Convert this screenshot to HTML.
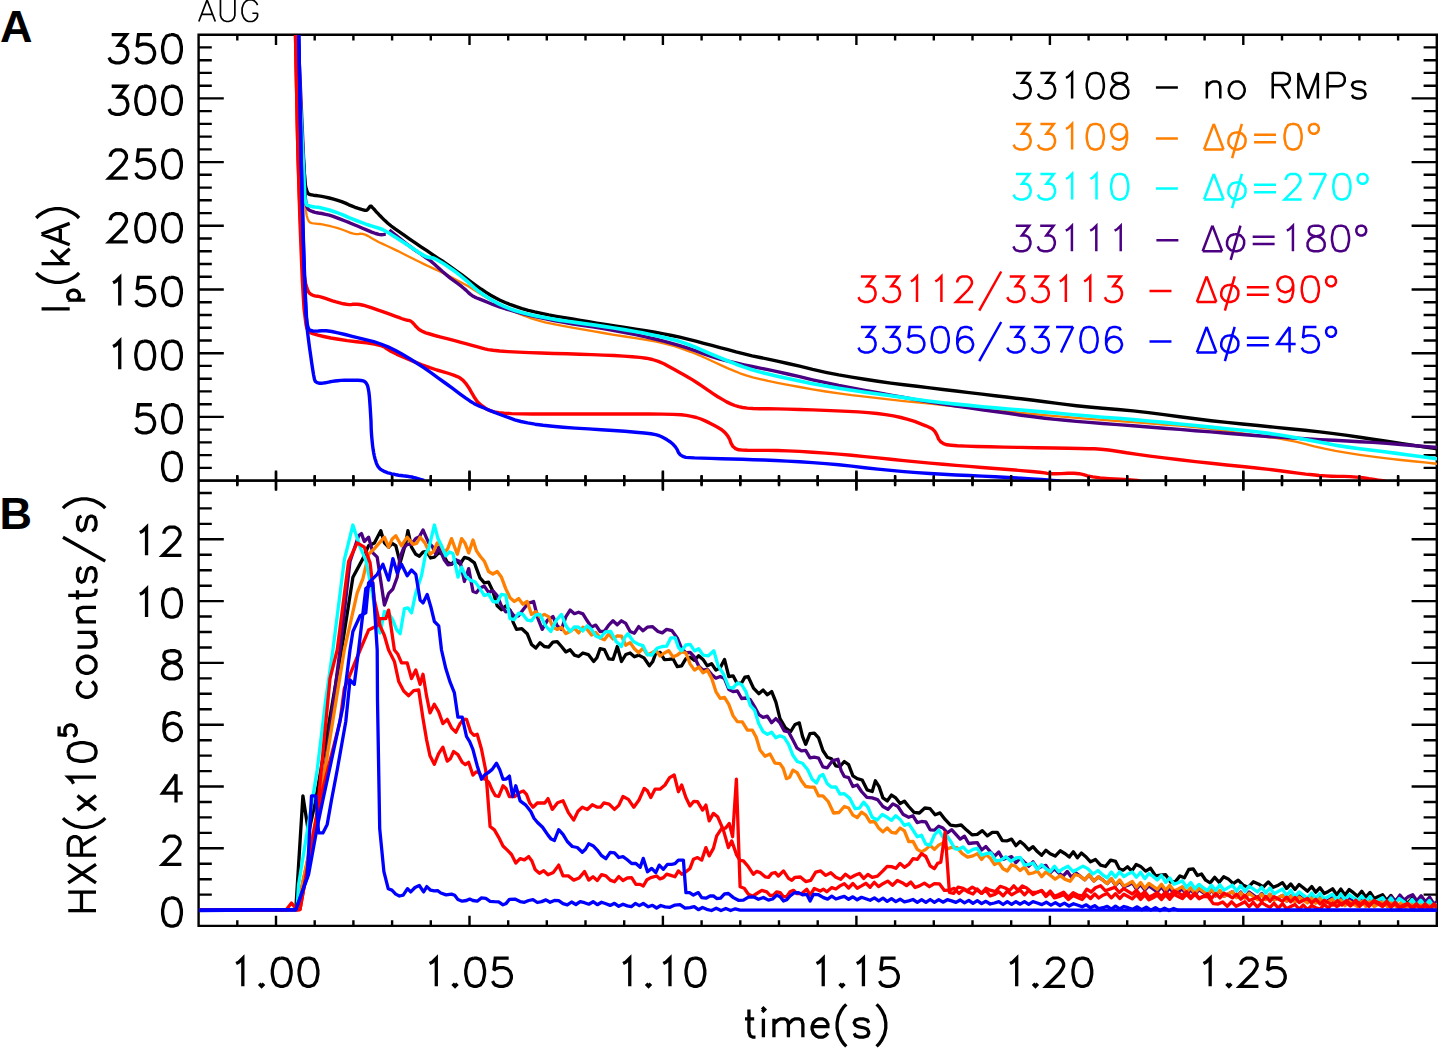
<!DOCTYPE html>
<html><head><meta charset="utf-8"><style>html,body{margin:0;padding:0;background:#fff;overflow:hidden}svg{display:block}</style></head><body>
<svg width="1438" height="1049" viewBox="0 0 1438 1049">
<rect width="1438" height="1049" fill="#fff"/>
<path d="M198.6 34.7 L1436.8 34.7 L1436.8 925.9 L198.6 925.9 Z M198.6 480.6 L1436.8 480.6 M198.6 467.9 h12 M1436.8 467.9 h-12 M198.6 455.1 h12 M1436.8 455.1 h-12 M198.6 442.4 h12 M1436.8 442.4 h-12 M198.6 429.6 h12 M1436.8 429.6 h-12 M198.6 416.9 h24 M1436.8 416.9 h-24 M198.6 404.2 h12 M1436.8 404.2 h-12 M198.6 391.4 h12 M1436.8 391.4 h-12 M198.6 378.7 h12 M1436.8 378.7 h-12 M198.6 365.9 h12 M1436.8 365.9 h-12 M198.6 353.2 h24 M1436.8 353.2 h-24 M198.6 340.5 h12 M1436.8 340.5 h-12 M198.6 327.7 h12 M1436.8 327.7 h-12 M198.6 315.0 h12 M1436.8 315.0 h-12 M198.6 302.2 h12 M1436.8 302.2 h-12 M198.6 289.5 h24 M1436.8 289.5 h-24 M198.6 276.8 h12 M1436.8 276.8 h-12 M198.6 264.0 h12 M1436.8 264.0 h-12 M198.6 251.3 h12 M1436.8 251.3 h-12 M198.6 238.5 h12 M1436.8 238.5 h-12 M198.6 225.8 h24 M1436.8 225.8 h-24 M198.6 213.1 h12 M1436.8 213.1 h-12 M198.6 200.3 h12 M1436.8 200.3 h-12 M198.6 187.6 h12 M1436.8 187.6 h-12 M198.6 174.8 h12 M1436.8 174.8 h-12 M198.6 162.1 h24 M1436.8 162.1 h-24 M198.6 149.4 h12 M1436.8 149.4 h-12 M198.6 136.6 h12 M1436.8 136.6 h-12 M198.6 123.9 h12 M1436.8 123.9 h-12 M198.6 111.1 h12 M1436.8 111.1 h-12 M198.6 98.4 h24 M1436.8 98.4 h-24 M198.6 85.7 h12 M1436.8 85.7 h-12 M198.6 72.9 h12 M1436.8 72.9 h-12 M198.6 60.2 h12 M1436.8 60.2 h-12 M198.6 47.4 h12 M1436.8 47.4 h-12 M198.6 910.1 h24 M1436.8 910.1 h-24 M198.6 894.6 h12 M1436.8 894.6 h-12 M198.6 879.2 h12 M1436.8 879.2 h-12 M198.6 863.8 h12 M1436.8 863.8 h-12 M198.6 848.3 h24 M1436.8 848.3 h-24 M198.6 832.9 h12 M1436.8 832.9 h-12 M198.6 817.4 h12 M1436.8 817.4 h-12 M198.6 802.0 h12 M1436.8 802.0 h-12 M198.6 786.5 h24 M1436.8 786.5 h-24 M198.6 771.1 h12 M1436.8 771.1 h-12 M198.6 755.6 h12 M1436.8 755.6 h-12 M198.6 740.2 h12 M1436.8 740.2 h-12 M198.6 724.7 h24 M1436.8 724.7 h-24 M198.6 709.2 h12 M1436.8 709.2 h-12 M198.6 693.8 h12 M1436.8 693.8 h-12 M198.6 678.4 h12 M1436.8 678.4 h-12 M198.6 662.9 h24 M1436.8 662.9 h-24 M198.6 647.5 h12 M1436.8 647.5 h-12 M198.6 632.0 h12 M1436.8 632.0 h-12 M198.6 616.5 h12 M1436.8 616.5 h-12 M198.6 601.1 h24 M1436.8 601.1 h-24 M198.6 585.7 h12 M1436.8 585.7 h-12 M198.6 570.2 h12 M1436.8 570.2 h-12 M198.6 554.8 h12 M1436.8 554.8 h-12 M198.6 539.3 h24 M1436.8 539.3 h-24 M198.6 523.9 h12 M1436.8 523.9 h-12 M198.6 508.4 h12 M1436.8 508.4 h-12 M198.6 493.0 h12 M1436.8 493.0 h-12 M237.3 34.7 v4.5 M237.3 480.6 v-4.5 M237.3 480.6 v4.5 M237.3 925.9 v-4.5 M276.0 34.7 v9.0 M276.0 480.6 v-9.0 M276.0 480.6 v9.0 M276.0 925.9 v-9.0 M314.7 34.7 v4.5 M314.7 480.6 v-4.5 M314.7 480.6 v4.5 M314.7 925.9 v-4.5 M353.4 34.7 v4.5 M353.4 480.6 v-4.5 M353.4 480.6 v4.5 M353.4 925.9 v-4.5 M392.1 34.7 v4.5 M392.1 480.6 v-4.5 M392.1 480.6 v4.5 M392.1 925.9 v-4.5 M430.8 34.7 v4.5 M430.8 480.6 v-4.5 M430.8 480.6 v4.5 M430.8 925.9 v-4.5 M469.5 34.7 v9.0 M469.5 480.6 v-9.0 M469.5 480.6 v9.0 M469.5 925.9 v-9.0 M508.2 34.7 v4.5 M508.2 480.6 v-4.5 M508.2 480.6 v4.5 M508.2 925.9 v-4.5 M546.8 34.7 v4.5 M546.8 480.6 v-4.5 M546.8 480.6 v4.5 M546.8 925.9 v-4.5 M585.5 34.7 v4.5 M585.5 480.6 v-4.5 M585.5 480.6 v4.5 M585.5 925.9 v-4.5 M624.2 34.7 v4.5 M624.2 480.6 v-4.5 M624.2 480.6 v4.5 M624.2 925.9 v-4.5 M662.9 34.7 v9.0 M662.9 480.6 v-9.0 M662.9 480.6 v9.0 M662.9 925.9 v-9.0 M701.6 34.7 v4.5 M701.6 480.6 v-4.5 M701.6 480.6 v4.5 M701.6 925.9 v-4.5 M740.3 34.7 v4.5 M740.3 480.6 v-4.5 M740.3 480.6 v4.5 M740.3 925.9 v-4.5 M779.0 34.7 v4.5 M779.0 480.6 v-4.5 M779.0 480.6 v4.5 M779.0 925.9 v-4.5 M817.7 34.7 v4.5 M817.7 480.6 v-4.5 M817.7 480.6 v4.5 M817.7 925.9 v-4.5 M856.4 34.7 v9.0 M856.4 480.6 v-9.0 M856.4 480.6 v9.0 M856.4 925.9 v-9.0 M895.1 34.7 v4.5 M895.1 480.6 v-4.5 M895.1 480.6 v4.5 M895.1 925.9 v-4.5 M933.8 34.7 v4.5 M933.8 480.6 v-4.5 M933.8 480.6 v4.5 M933.8 925.9 v-4.5 M972.5 34.7 v4.5 M972.5 480.6 v-4.5 M972.5 480.6 v4.5 M972.5 925.9 v-4.5 M1011.2 34.7 v4.5 M1011.2 480.6 v-4.5 M1011.2 480.6 v4.5 M1011.2 925.9 v-4.5 M1049.9 34.7 v9.0 M1049.9 480.6 v-9.0 M1049.9 480.6 v9.0 M1049.9 925.9 v-9.0 M1088.6 34.7 v4.5 M1088.6 480.6 v-4.5 M1088.6 480.6 v4.5 M1088.6 925.9 v-4.5 M1127.2 34.7 v4.5 M1127.2 480.6 v-4.5 M1127.2 480.6 v4.5 M1127.2 925.9 v-4.5 M1165.9 34.7 v4.5 M1165.9 480.6 v-4.5 M1165.9 480.6 v4.5 M1165.9 925.9 v-4.5 M1204.6 34.7 v4.5 M1204.6 480.6 v-4.5 M1204.6 480.6 v4.5 M1204.6 925.9 v-4.5 M1243.3 34.7 v9.0 M1243.3 480.6 v-9.0 M1243.3 480.6 v9.0 M1243.3 925.9 v-9.0 M1282.0 34.7 v4.5 M1282.0 480.6 v-4.5 M1282.0 480.6 v4.5 M1282.0 925.9 v-4.5 M1320.7 34.7 v4.5 M1320.7 480.6 v-4.5 M1320.7 480.6 v4.5 M1320.7 925.9 v-4.5 M1359.4 34.7 v4.5 M1359.4 480.6 v-4.5 M1359.4 480.6 v4.5 M1359.4 925.9 v-4.5 M1398.1 34.7 v4.5 M1398.1 480.6 v-4.5 M1398.1 480.6 v4.5 M1398.1 925.9 v-4.5" stroke="#000" stroke-width="2.4" fill="none" stroke-linecap="square"/>
<path d="M170.66 452.46 L166.64 453.80 L163.96 457.82 L162.62 464.52 L162.62 468.54 L163.96 475.24 L166.64 479.26 L170.66 480.60 L173.34 480.60 L177.36 479.26 L180.04 475.24 L181.38 468.54 L181.38 464.52 L180.04 457.82 L177.36 453.80 L173.34 452.46 L170.66 452.46 M151.90 404.76 L138.50 404.76 L137.16 416.82 L138.50 415.48 L142.52 414.14 L146.54 414.14 L150.56 415.48 L153.24 418.16 L154.58 422.18 L154.58 424.86 L153.24 428.88 L150.56 431.56 L146.54 432.90 L142.52 432.90 L138.50 431.56 L137.16 430.22 L135.82 427.54 M170.66 404.76 L166.64 406.10 L163.96 410.12 L162.62 416.82 L162.62 420.84 L163.96 427.54 L166.64 431.56 L170.66 432.90 L173.34 432.90 L177.36 431.56 L180.04 427.54 L181.38 420.84 L181.38 416.82 L180.04 410.12 L177.36 406.10 L173.34 404.76 L170.66 404.76 M113.04 346.42 L115.72 345.08 L119.74 341.06 L119.74 369.20 M143.86 341.06 L139.84 342.40 L137.16 346.42 L135.82 353.12 L135.82 357.14 L137.16 363.84 L139.84 367.86 L143.86 369.20 L146.54 369.20 L150.56 367.86 L153.24 363.84 L154.58 357.14 L154.58 353.12 L153.24 346.42 L150.56 342.40 L146.54 341.06 L143.86 341.06 M170.66 341.06 L166.64 342.40 L163.96 346.42 L162.62 353.12 L162.62 357.14 L163.96 363.84 L166.64 367.86 L170.66 369.20 L173.34 369.20 L177.36 367.86 L180.04 363.84 L181.38 357.14 L181.38 353.12 L180.04 346.42 L177.36 342.40 L173.34 341.06 L170.66 341.06 M113.04 282.72 L115.72 281.38 L119.74 277.36 L119.74 305.50 M151.90 277.36 L138.50 277.36 L137.16 289.42 L138.50 288.08 L142.52 286.74 L146.54 286.74 L150.56 288.08 L153.24 290.76 L154.58 294.78 L154.58 297.46 L153.24 301.48 L150.56 304.16 L146.54 305.50 L142.52 305.50 L138.50 304.16 L137.16 302.82 L135.82 300.14 M170.66 277.36 L166.64 278.70 L163.96 282.72 L162.62 289.42 L162.62 293.44 L163.96 300.14 L166.64 304.16 L170.66 305.50 L173.34 305.50 L177.36 304.16 L180.04 300.14 L181.38 293.44 L181.38 289.42 L180.04 282.72 L177.36 278.70 L173.34 277.36 L170.66 277.36 M110.36 220.36 L110.36 219.02 L111.70 216.34 L113.04 215.00 L115.72 213.66 L121.08 213.66 L123.76 215.00 L125.10 216.34 L126.44 219.02 L126.44 221.70 L125.10 224.38 L122.42 228.40 L109.02 241.80 L127.78 241.80 M143.86 213.66 L139.84 215.00 L137.16 219.02 L135.82 225.72 L135.82 229.74 L137.16 236.44 L139.84 240.46 L143.86 241.80 L146.54 241.80 L150.56 240.46 L153.24 236.44 L154.58 229.74 L154.58 225.72 L153.24 219.02 L150.56 215.00 L146.54 213.66 L143.86 213.66 M170.66 213.66 L166.64 215.00 L163.96 219.02 L162.62 225.72 L162.62 229.74 L163.96 236.44 L166.64 240.46 L170.66 241.80 L173.34 241.80 L177.36 240.46 L180.04 236.44 L181.38 229.74 L181.38 225.72 L180.04 219.02 L177.36 215.00 L173.34 213.66 L170.66 213.66 M110.36 156.66 L110.36 155.32 L111.70 152.64 L113.04 151.30 L115.72 149.96 L121.08 149.96 L123.76 151.30 L125.10 152.64 L126.44 155.32 L126.44 158.00 L125.10 160.68 L122.42 164.70 L109.02 178.10 L127.78 178.10 M151.90 149.96 L138.50 149.96 L137.16 162.02 L138.50 160.68 L142.52 159.34 L146.54 159.34 L150.56 160.68 L153.24 163.36 L154.58 167.38 L154.58 170.06 L153.24 174.08 L150.56 176.76 L146.54 178.10 L142.52 178.10 L138.50 176.76 L137.16 175.42 L135.82 172.74 M170.66 149.96 L166.64 151.30 L163.96 155.32 L162.62 162.02 L162.62 166.04 L163.96 172.74 L166.64 176.76 L170.66 178.10 L173.34 178.10 L177.36 176.76 L180.04 172.74 L181.38 166.04 L181.38 162.02 L180.04 155.32 L177.36 151.30 L173.34 149.96 L170.66 149.96 M111.70 86.26 L126.44 86.26 L118.40 96.98 L122.42 96.98 L125.10 98.32 L126.44 99.66 L127.78 103.68 L127.78 106.36 L126.44 110.38 L123.76 113.06 L119.74 114.40 L115.72 114.40 L111.70 113.06 L110.36 111.72 L109.02 109.04 M143.86 86.26 L139.84 87.60 L137.16 91.62 L135.82 98.32 L135.82 102.34 L137.16 109.04 L139.84 113.06 L143.86 114.40 L146.54 114.40 L150.56 113.06 L153.24 109.04 L154.58 102.34 L154.58 98.32 L153.24 91.62 L150.56 87.60 L146.54 86.26 L143.86 86.26 M170.66 86.26 L166.64 87.60 L163.96 91.62 L162.62 98.32 L162.62 102.34 L163.96 109.04 L166.64 113.06 L170.66 114.40 L173.34 114.40 L177.36 113.06 L180.04 109.04 L181.38 102.34 L181.38 98.32 L180.04 91.62 L177.36 87.60 L173.34 86.26 L170.66 86.26 M111.70 34.70 L126.44 34.70 L118.40 45.42 L122.42 45.42 L125.10 46.76 L126.44 48.10 L127.78 52.12 L127.78 54.80 L126.44 58.82 L123.76 61.50 L119.74 62.84 L115.72 62.84 L111.70 61.50 L110.36 60.16 L109.02 57.48 M151.90 34.70 L138.50 34.70 L137.16 46.76 L138.50 45.42 L142.52 44.08 L146.54 44.08 L150.56 45.42 L153.24 48.10 L154.58 52.12 L154.58 54.80 L153.24 58.82 L150.56 61.50 L146.54 62.84 L142.52 62.84 L138.50 61.50 L137.16 60.16 L135.82 57.48 M170.66 34.70 L166.64 36.04 L163.96 40.06 L162.62 46.76 L162.62 50.78 L163.96 57.48 L166.64 61.50 L170.66 62.84 L173.34 62.84 L177.36 61.50 L180.04 57.48 L181.38 50.78 L181.38 46.76 L180.04 40.06 L177.36 36.04 L173.34 34.70 L170.66 34.70 M170.66 897.96 L166.64 899.30 L163.96 903.32 L162.62 910.02 L162.62 914.04 L163.96 920.74 L166.64 924.76 L170.66 926.10 L173.34 926.10 L177.36 924.76 L180.04 920.74 L181.38 914.04 L181.38 910.02 L180.04 903.32 L177.36 899.30 L173.34 897.96 L170.66 897.96 M163.96 842.86 L163.96 841.52 L165.30 838.84 L166.64 837.50 L169.32 836.16 L174.68 836.16 L177.36 837.50 L178.70 838.84 L180.04 841.52 L180.04 844.20 L178.70 846.88 L176.02 850.90 L162.62 864.30 L181.38 864.30 M176.02 774.36 L162.62 793.12 L182.72 793.12 M176.02 774.36 L176.02 802.50 M180.04 716.58 L178.70 713.90 L174.68 712.56 L172.00 712.56 L167.98 713.90 L165.30 717.92 L163.96 724.62 L163.96 731.32 L165.30 736.68 L167.98 739.36 L172.00 740.70 L173.34 740.70 L177.36 739.36 L180.04 736.68 L181.38 732.66 L181.38 731.32 L180.04 727.30 L177.36 724.62 L173.34 723.28 L172.00 723.28 L167.98 724.62 L165.30 727.30 L163.96 731.32 M169.32 650.76 L165.30 652.10 L163.96 654.78 L163.96 657.46 L165.30 660.14 L167.98 661.48 L173.34 662.82 L177.36 664.16 L180.04 666.84 L181.38 669.52 L181.38 673.54 L180.04 676.22 L178.70 677.56 L174.68 678.90 L169.32 678.90 L165.30 677.56 L163.96 676.22 L162.62 673.54 L162.62 669.52 L163.96 666.84 L166.64 664.16 L170.66 662.82 L176.02 661.48 L178.70 660.14 L180.04 657.46 L180.04 654.78 L178.70 652.10 L174.68 650.76 L169.32 650.76 M139.84 594.32 L142.52 592.98 L146.54 588.96 L146.54 617.10 M170.66 588.96 L166.64 590.30 L163.96 594.32 L162.62 601.02 L162.62 605.04 L163.96 611.74 L166.64 615.76 L170.66 617.10 L173.34 617.10 L177.36 615.76 L180.04 611.74 L181.38 605.04 L181.38 601.02 L180.04 594.32 L177.36 590.30 L173.34 588.96 L170.66 588.96 M139.84 532.52 L142.52 531.18 L146.54 527.16 L146.54 555.30 M163.96 533.86 L163.96 532.52 L165.30 529.84 L166.64 528.50 L169.32 527.16 L174.68 527.16 L177.36 528.50 L178.70 529.84 L180.04 532.52 L180.04 535.20 L178.70 537.88 L176.02 541.90 L162.62 555.30 L181.38 555.30 M236.13 963.52 L238.81 962.18 L242.83 958.16 L242.83 986.30 M261.59 983.62 L260.25 984.96 L261.59 986.30 L262.93 984.96 L261.59 983.62 M280.35 958.16 L276.33 959.50 L273.65 963.52 L272.31 970.22 L272.31 974.24 L273.65 980.94 L276.33 984.96 L280.35 986.30 L283.03 986.30 L287.05 984.96 L289.73 980.94 L291.07 974.24 L291.07 970.22 L289.73 963.52 L287.05 959.50 L283.03 958.16 L280.35 958.16 M307.15 958.16 L303.13 959.50 L300.45 963.52 L299.11 970.22 L299.11 974.24 L300.45 980.94 L303.13 984.96 L307.15 986.30 L309.83 986.30 L313.85 984.96 L316.53 980.94 L317.87 974.24 L317.87 970.22 L316.53 963.52 L313.85 959.50 L309.83 958.16 L307.15 958.16 M429.60 963.52 L432.28 962.18 L436.30 958.16 L436.30 986.30 M455.06 983.62 L453.72 984.96 L455.06 986.30 L456.40 984.96 L455.06 983.62 M473.82 958.16 L469.80 959.50 L467.12 963.52 L465.78 970.22 L465.78 974.24 L467.12 980.94 L469.80 984.96 L473.82 986.30 L476.50 986.30 L480.52 984.96 L483.20 980.94 L484.54 974.24 L484.54 970.22 L483.20 963.52 L480.52 959.50 L476.50 958.16 L473.82 958.16 M508.66 958.16 L495.26 958.16 L493.92 970.22 L495.26 968.88 L499.28 967.54 L503.30 967.54 L507.32 968.88 L510.00 971.56 L511.34 975.58 L511.34 978.26 L510.00 982.28 L507.32 984.96 L503.30 986.30 L499.28 986.30 L495.26 984.96 L493.92 983.62 L492.58 980.94 M623.07 963.52 L625.75 962.18 L629.77 958.16 L629.77 986.30 M648.53 983.62 L647.19 984.96 L648.53 986.30 L649.87 984.96 L648.53 983.62 M663.27 963.52 L665.95 962.18 L669.97 958.16 L669.97 986.30 M694.09 958.16 L690.07 959.50 L687.39 963.52 L686.05 970.22 L686.05 974.24 L687.39 980.94 L690.07 984.96 L694.09 986.30 L696.77 986.30 L700.79 984.96 L703.47 980.94 L704.81 974.24 L704.81 970.22 L703.47 963.52 L700.79 959.50 L696.77 958.16 L694.09 958.16 M816.53 963.52 L819.21 962.18 L823.23 958.16 L823.23 986.30 M841.99 983.62 L840.65 984.96 L841.99 986.30 L843.33 984.96 L841.99 983.62 M856.73 963.52 L859.41 962.18 L863.43 958.16 L863.43 986.30 M895.59 958.16 L882.19 958.16 L880.85 970.22 L882.19 968.88 L886.21 967.54 L890.23 967.54 L894.25 968.88 L896.93 971.56 L898.27 975.58 L898.27 978.26 L896.93 982.28 L894.25 984.96 L890.23 986.30 L886.21 986.30 L882.19 984.96 L880.85 983.62 L879.51 980.94 M1010.00 963.52 L1012.68 962.18 L1016.70 958.16 L1016.70 986.30 M1035.46 983.62 L1034.12 984.96 L1035.46 986.30 L1036.80 984.96 L1035.46 983.62 M1047.52 964.86 L1047.52 963.52 L1048.86 960.84 L1050.20 959.50 L1052.88 958.16 L1058.24 958.16 L1060.92 959.50 L1062.26 960.84 L1063.60 963.52 L1063.60 966.20 L1062.26 968.88 L1059.58 972.90 L1046.18 986.30 L1064.94 986.30 M1081.02 958.16 L1077.00 959.50 L1074.32 963.52 L1072.98 970.22 L1072.98 974.24 L1074.32 980.94 L1077.00 984.96 L1081.02 986.30 L1083.70 986.30 L1087.72 984.96 L1090.40 980.94 L1091.74 974.24 L1091.74 970.22 L1090.40 963.52 L1087.72 959.50 L1083.70 958.16 L1081.02 958.16 M1203.47 963.52 L1206.15 962.18 L1210.17 958.16 L1210.17 986.30 M1228.93 983.62 L1227.59 984.96 L1228.93 986.30 L1230.27 984.96 L1228.93 983.62 M1240.99 964.86 L1240.99 963.52 L1242.33 960.84 L1243.67 959.50 L1246.35 958.16 L1251.71 958.16 L1254.39 959.50 L1255.73 960.84 L1257.07 963.52 L1257.07 966.20 L1255.73 968.88 L1253.05 972.90 L1239.65 986.30 L1258.41 986.30 M1282.53 958.16 L1269.13 958.16 L1267.79 970.22 L1269.13 968.88 L1273.15 967.54 L1277.17 967.54 L1281.19 968.88 L1283.87 971.56 L1285.21 975.58 L1285.21 978.26 L1283.87 982.28 L1281.19 984.96 L1277.17 986.30 L1273.15 986.30 L1269.13 984.96 L1267.79 983.62 L1266.45 980.94 M748.93 1009.56 L748.93 1031.94 L750.24 1035.88 L752.87 1037.20 L755.51 1037.20 M744.98 1018.78 L754.19 1018.78 M762.09 1009.56 L763.40 1010.88 L764.72 1009.56 L763.40 1008.25 L762.09 1009.56 M763.40 1018.78 L763.40 1037.20 M773.93 1018.78 L773.93 1037.20 M773.93 1024.04 L777.88 1020.09 L780.51 1018.78 L784.46 1018.78 L787.09 1020.09 L788.41 1024.04 L788.41 1037.20 M788.41 1024.04 L792.35 1020.09 L794.99 1018.78 L798.93 1018.78 L801.57 1020.09 L802.88 1024.04 L802.88 1037.20 M812.09 1026.67 L827.89 1026.67 L827.89 1024.04 L826.57 1021.41 L825.25 1020.09 L822.62 1018.78 L818.67 1018.78 L816.04 1020.09 L813.41 1022.72 L812.09 1026.67 L812.09 1029.30 L813.41 1033.25 L816.04 1035.88 L818.67 1037.20 L822.62 1037.20 L825.25 1035.88 L827.89 1033.25 M846.31 1004.30 L843.68 1006.93 L841.05 1010.88 L838.41 1016.14 L837.10 1022.72 L837.10 1027.99 L838.41 1034.57 L841.05 1039.83 L843.68 1043.78 L846.31 1046.41 M868.68 1022.72 L867.37 1020.09 L863.42 1018.78 L859.47 1018.78 L855.52 1020.09 L854.21 1022.72 L855.52 1025.36 L858.15 1026.67 L864.73 1027.99 L867.37 1029.30 L868.68 1031.94 L868.68 1033.25 L867.37 1035.88 L863.42 1037.20 L859.47 1037.20 L855.52 1035.88 L854.21 1033.25 M876.58 1004.30 L879.21 1006.93 L881.84 1010.88 L884.47 1016.14 L885.79 1022.72 L885.79 1027.99 L884.47 1034.57 L881.84 1039.83 L879.21 1043.78 L876.58 1046.41" stroke="#000" stroke-width="3.3" fill="none" stroke-linecap="butt" stroke-linejoin="miter" stroke-miterlimit="3"/>
<path d="M207.07 -0.13 L198.83 21.50 M207.07 -0.13 L215.31 21.50 M201.92 14.29 L212.22 14.29 M220.46 -0.13 L220.46 15.32 L221.49 18.41 L223.55 20.47 L226.64 21.50 L228.70 21.50 L231.79 20.47 L233.85 18.41 L234.88 15.32 L234.88 -0.13 M257.54 5.02 L256.51 2.96 L254.45 0.90 L252.39 -0.13 L248.27 -0.13 L246.21 0.90 L244.15 2.96 L243.12 5.02 L242.09 8.11 L242.09 13.26 L243.12 16.35 L244.15 18.41 L246.21 20.47 L248.27 21.50 L252.39 21.50 L254.45 20.47 L256.51 18.41 L257.54 16.35 L257.54 13.26 M252.39 13.26 L257.54 13.26" stroke="#000" stroke-width="1.7" fill="none" stroke-linecap="butt" stroke-linejoin="miter" stroke-miterlimit="3"/>
<g transform="translate(69.7,314.2) rotate(-90)"><path d="M5.36 -28.14 L5.36 0.00 M14.04 -1.93 L14.04 15.52 M14.04 0.56 L15.70 -1.10 L17.37 -1.93 L19.86 -1.93 L21.52 -1.10 L23.18 0.56 L24.01 3.05 L24.01 4.72 L23.18 7.21 L21.52 8.87 L19.86 9.70 L17.37 9.70 L15.70 8.87 L14.04 7.21 M41.25 -33.50 L38.57 -30.82 L35.89 -26.80 L33.21 -21.44 L31.87 -14.74 L31.87 -9.38 L33.21 -2.68 L35.89 2.68 L38.57 6.70 L41.25 9.38 M50.63 -28.14 L50.63 0.00 M64.03 -18.76 L50.63 -5.36 M55.99 -10.72 L65.37 0.00 M80.11 -28.14 L69.39 0.00 M80.11 -28.14 L90.83 0.00 M73.41 -9.38 L86.81 -9.38 M96.19 -33.50 L98.87 -30.82 L101.55 -26.80 L104.23 -21.44 L105.57 -14.74 L105.57 -9.38 L104.23 -2.68 L101.55 2.68 L98.87 6.70 L96.19 9.38" stroke="#000" stroke-width="3.3" fill="none" stroke-linecap="butt" stroke-linejoin="miter" stroke-miterlimit="3"/></g>
<g transform="translate(96.0,915.9) rotate(-90)"><path d="M5.29 -27.76 L5.29 0.00 M23.80 -27.76 L23.80 0.00 M5.29 -14.54 L23.80 -14.54 M33.05 -27.76 L51.56 0.00 M51.56 -27.76 L33.05 0.00 M60.81 -27.76 L60.81 0.00 M60.81 -27.76 L72.71 -27.76 L76.68 -26.44 L78.00 -25.12 L79.32 -22.47 L79.32 -19.83 L78.00 -17.19 L76.68 -15.86 L72.71 -14.54 L60.81 -14.54 M70.07 -14.54 L79.32 0.00 M97.83 -33.05 L95.18 -30.41 L92.54 -26.44 L89.90 -21.15 L88.57 -14.54 L88.57 -9.25 L89.90 -2.64 L92.54 2.64 L95.18 6.61 L97.83 9.25 M105.76 -18.51 L120.30 0.00 M120.30 -18.51 L105.76 0.00 M132.20 -22.47 L134.84 -23.80 L138.81 -27.76 L138.81 0.00 M162.61 -27.76 L158.64 -26.44 L156.00 -22.47 L154.67 -15.86 L154.67 -11.90 L156.00 -5.29 L158.64 -1.32 L162.61 0.00 L165.25 0.00 L169.22 -1.32 L171.86 -5.29 L173.18 -11.90 L173.18 -15.86 L171.86 -22.47 L169.22 -26.44 L165.25 -27.76 L162.61 -27.76 M189.44 -36.91 L181.25 -36.91 L180.43 -29.54 L181.25 -30.36 L183.71 -31.17 L186.16 -31.17 L188.62 -30.36 L190.26 -28.72 L191.08 -26.26 L191.08 -24.62 L190.26 -22.16 L188.62 -20.52 L186.16 -19.70 L183.71 -19.70 L181.25 -20.52 L180.43 -21.34 L179.61 -22.98 M234.52 -14.54 L231.88 -17.19 L229.23 -18.51 L225.27 -18.51 L222.62 -17.19 L219.98 -14.54 L218.66 -10.58 L218.66 -7.93 L219.98 -3.97 L222.62 -1.32 L225.27 0.00 L229.23 0.00 L231.88 -1.32 L234.52 -3.97 M249.06 -18.51 L246.42 -17.19 L243.78 -14.54 L242.45 -10.58 L242.45 -7.93 L243.78 -3.97 L246.42 -1.32 L249.06 0.00 L253.03 0.00 L255.67 -1.32 L258.32 -3.97 L259.64 -7.93 L259.64 -10.58 L258.32 -14.54 L255.67 -17.19 L253.03 -18.51 L249.06 -18.51 M268.89 -18.51 L268.89 -5.29 L270.22 -1.32 L272.86 0.00 L276.83 0.00 L279.47 -1.32 L283.44 -5.29 M283.44 -18.51 L283.44 0.00 M294.01 -18.51 L294.01 0.00 M294.01 -13.22 L297.98 -17.19 L300.62 -18.51 L304.59 -18.51 L307.23 -17.19 L308.55 -13.22 L308.55 0.00 M320.45 -27.76 L320.45 -5.29 L321.77 -1.32 L324.42 0.00 L327.06 0.00 M316.49 -18.51 L325.74 -18.51 M348.21 -14.54 L346.89 -17.19 L342.93 -18.51 L338.96 -18.51 L334.99 -17.19 L333.67 -14.54 L334.99 -11.90 L337.64 -10.58 L344.25 -9.25 L346.89 -7.93 L348.21 -5.29 L348.21 -3.97 L346.89 -1.32 L342.93 0.00 L338.96 0.00 L334.99 -1.32 L333.67 -3.97 M378.62 -33.05 L354.82 9.25 M399.77 -14.54 L398.45 -17.19 L394.48 -18.51 L390.52 -18.51 L386.55 -17.19 L385.23 -14.54 L386.55 -11.90 L389.20 -10.58 L395.81 -9.25 L398.45 -7.93 L399.77 -5.29 L399.77 -3.97 L398.45 -1.32 L394.48 0.00 L390.52 0.00 L386.55 -1.32 L385.23 -3.97 M407.70 -33.05 L410.35 -30.41 L412.99 -26.44 L415.64 -21.15 L416.96 -14.54 L416.96 -9.25 L415.64 -2.64 L412.99 2.64 L410.35 6.61 L407.70 9.25" stroke="#000" stroke-width="3.3" fill="none" stroke-linecap="butt" stroke-linejoin="miter" stroke-miterlimit="3"/></g>
<defs><clipPath id="cA"><rect x="199" y="35" width="1238" height="446"/></clipPath><clipPath id="cB"><rect x="199" y="481" width="1238" height="445"/></clipPath></defs>
<g clip-path="url(#cA)">
<polyline points="296.5,35.0 297.0,44.1 298.0,62.2 299.4,89.4 301.4,125.6 303.0,153.7 304.4,173.5 305.4,185.1 306.1,188.5 306.9,191.1 307.8,193.0 308.8,194.1 309.9,194.5 311.4,194.8 313.4,195.2 315.8,195.5 318.6,195.9 321.8,196.4 325.4,197.1 329.3,198.0 333.6,199.1 337.7,200.3 341.6,201.6 345.4,203.1 348.9,204.8 352.2,206.1 355.0,207.3 357.6,208.2 359.7,208.8 361.6,209.4 363.1,209.8 364.3,210.1 365.2,210.4 366.0,210.4 366.7,210.2 367.2,209.9 367.8,209.3 368.2,208.7 368.8,208.1 369.2,207.4 369.8,206.6 370.2,206.2 370.8,206.1 371.2,206.2 371.8,206.8 372.5,207.6 373.5,208.6 374.8,210.0 376.3,211.8 378.1,213.7 380.1,215.8 382.4,218.1 384.9,220.6 387.8,223.2 391.2,226.0 395.1,228.9 399.4,231.9 404.1,235.2 409.3,238.8 414.9,242.6 421.0,246.8 426.9,250.7 432.6,254.6 438.1,258.3 443.5,261.8 449.3,265.9 455.5,270.3 462.2,275.2 469.3,280.6 475.7,285.3 481.4,289.3 486.5,292.6 490.7,295.3 495.3,297.8 500.1,300.2 505.2,302.5 510.6,304.7 516.2,306.7 522.1,308.6 528.2,310.3 534.7,311.9 541.5,313.4 548.7,314.9 556.4,316.3 564.4,317.7 572.5,319.0 580.5,320.4 588.6,321.7 596.6,323.1 605.3,324.5 614.7,326.0 624.8,327.5 635.5,329.1 645.6,330.7 654.9,332.3 663.6,333.9 671.7,335.5 679.7,337.2 687.7,339.1 695.8,341.1 703.8,343.3 711.9,345.4 719.9,347.6 728.0,349.7 736.0,351.9 744.1,353.9 752.1,355.8 760.1,357.5 768.0,359.1 777.3,361.1 787.8,363.5 799.6,366.2 812.6,369.4 825.7,372.3 838.7,374.9 851.7,377.2 864.8,379.3 877.8,381.2 890.8,383.1 903.9,384.8 916.9,386.3 930.0,387.9 943.0,389.5 956.0,391.0 969.1,392.6 982.1,394.1 995.1,395.7 1008.2,397.3 1021.2,398.8 1033.5,400.3 1044.9,401.8 1055.5,403.1 1065.3,404.4 1076.4,405.7 1088.9,407.0 1102.7,408.2 1117.9,409.5 1133.1,410.9 1148.5,412.6 1164.1,414.6 1179.7,416.8 1195.4,418.8 1211.0,420.7 1226.7,422.4 1242.3,424.0 1258.0,425.5 1273.6,427.1 1289.3,428.7 1304.9,430.2 1319.8,431.9 1333.9,433.6 1347.2,435.4 1359.7,437.3 1372.8,439.2 1386.5,441.3 1400.8,443.4 1415.6,445.6 1426.8,447.2 1434.3,448.3 1438.0,448.9" fill="none" stroke="#000000" stroke-width="3.4" stroke-linejoin="round"/>
<polyline points="297.0,35.0 297.4,44.1 298.3,62.2 299.6,89.4 301.4,125.6 302.8,154.4 303.8,175.8 304.4,189.6 304.6,196.1 305.0,201.9 305.5,207.2 306.1,211.9 306.8,216.0 307.8,219.2 308.9,221.4 310.3,222.7 311.9,223.1 313.6,223.4 315.5,223.6 317.5,223.9 319.7,224.0 322.4,224.4 325.6,225.1 329.3,225.9 333.6,227.0 337.8,228.2 341.9,229.5 345.9,231.0 349.9,232.6 353.3,233.7 356.1,234.2 358.5,234.2 360.2,233.7 362.5,233.8 365.1,234.6 368.3,236.1 371.8,238.3 375.4,240.3 379.0,242.2 382.6,243.9 386.1,245.5 389.9,247.2 393.8,249.1 398.0,251.1 402.2,253.3 406.6,255.5 411.1,257.7 415.6,260.0 420.3,262.3 424.5,264.4 428.5,266.3 432.0,267.9 435.3,269.4 438.4,270.8 441.4,272.2 444.4,273.6 447.2,275.1 450.5,276.8 454.3,278.7 458.5,280.9 463.1,283.4 467.9,286.1 472.7,289.0 477.6,292.0 482.5,295.2 487.7,298.3 492.9,301.3 498.3,304.2 503.9,306.9 509.8,309.7 516.0,312.4 522.6,315.1 529.6,317.8 537.1,320.2 545.1,322.4 553.7,324.2 562.8,325.9 572.3,327.6 582.3,329.3 592.6,331.1 603.3,333.0 614.0,334.8 624.8,336.5 635.5,338.2 646.2,339.8 656.3,341.7 665.7,343.8 674.4,346.2 682.4,348.9 690.5,351.8 698.5,355.0 706.5,358.5 714.6,362.3 721.9,365.6 728.6,368.6 734.7,371.1 740.0,373.3 746.1,375.3 752.7,377.3 760.1,379.1 768.0,380.9 777.3,382.8 787.8,384.8 799.6,387.0 812.6,389.3 825.7,391.5 838.7,393.4 851.7,395.2 864.8,396.7 877.8,398.2 890.8,399.7 903.9,401.1 916.9,402.4 930.0,403.6 943.0,405.0 956.0,406.3 969.1,407.5 982.1,408.9 995.1,410.2 1008.2,411.5 1021.2,412.8 1033.5,414.0 1044.9,415.1 1055.5,416.1 1065.3,416.9 1076.4,417.8 1088.9,418.8 1102.7,419.8 1117.9,421.0 1133.1,422.1 1148.5,423.3 1164.1,424.5 1179.7,425.7 1194.6,427.1 1208.7,428.7 1222.0,430.4 1234.5,432.3 1246.2,434.0 1257.2,435.6 1267.4,437.0 1276.7,438.2 1286.1,439.8 1295.5,441.7 1304.9,443.9 1314.3,446.4 1324.5,448.7 1335.4,450.9 1347.2,452.9 1359.7,454.8 1372.8,456.6 1386.5,458.3 1400.8,460.0 1415.6,461.5 1426.8,462.7 1434.3,463.5 1438.0,463.9" fill="none" stroke="#ff7f00" stroke-width="2.3" stroke-linejoin="round"/>
<polyline points="298.0,35.0 298.4,44.1 299.2,62.2 300.5,89.4 302.1,125.6 303.4,154.6 304.4,176.2 305.0,190.5 305.3,197.4 305.9,202.9 307.0,207.0 308.4,209.5 310.2,210.6 312.4,211.5 315.1,212.3 318.3,213.0 321.8,213.5 325.5,214.3 329.2,215.2 333.1,216.4 337.0,217.9 341.0,219.4 345.1,221.0 349.4,222.7 353.6,224.5 358.0,226.3 362.5,228.2 367.0,230.1 371.7,232.1 375.6,233.5 378.8,234.4 381.3,234.7 383.1,234.6 384.4,234.4 385.4,234.3 385.8,234.3" fill="none" stroke="#4b0082" stroke-width="3.4" stroke-linejoin="round"/>
<polyline points="389.4,230.0 390.6,231.0 393.0,233.0 396.6,235.9 401.5,239.9 406.2,243.6 411.0,247.2 415.6,250.6 420.3,253.7 424.0,256.3 426.8,258.3 428.8,259.6 429.9,260.4 431.8,261.9 434.5,264.3 438.0,267.4 442.2,271.3 446.4,274.9 450.3,278.1 454.1,280.9 457.6,283.4 460.9,285.9 463.7,288.2 466.2,290.4 468.4,292.6 470.5,294.4 472.6,295.9 474.8,297.1 476.8,298.0 479.8,299.2 483.5,300.7 488.0,302.5 493.4,304.7 499.4,306.8 506.1,309.0 513.5,311.1 521.5,313.3 529.6,315.3 537.6,317.2 545.7,318.9 553.7,320.5 562.4,322.1 571.8,323.7 581.9,325.3 592.6,326.9 603.3,328.6 614.1,330.5 624.8,332.5 635.5,334.7 645.6,336.8 654.9,339.0 663.6,341.1 671.7,343.3 679.7,345.6 687.7,348.2 695.8,350.9 703.8,353.9 711.9,356.6 719.9,359.0 728.0,361.1 736.0,363.0 744.1,364.8 752.1,366.5 760.1,368.1 768.0,369.7 777.3,371.6 787.8,374.0 799.6,376.7 812.6,379.8 825.7,382.7 838.7,385.5 851.7,388.0 864.8,390.4 877.8,392.7 890.8,395.1 903.9,397.4 916.9,399.8 930.0,402.0 943.0,404.1 956.0,406.0 969.1,407.9 982.1,409.7 995.1,411.5 1008.2,413.3 1021.2,415.2 1033.5,416.8 1044.9,418.2 1055.5,419.4 1065.3,420.3 1076.4,421.4 1088.9,422.4 1102.7,423.5 1117.9,424.6 1133.1,425.8 1148.5,427.0 1164.1,428.2 1179.7,429.4 1195.4,430.7 1211.0,431.9 1226.7,433.2 1242.3,434.5 1258.0,435.7 1273.6,436.8 1289.3,437.8 1304.9,438.7 1319.8,439.6 1333.9,440.3 1347.2,441.0 1359.7,441.7 1372.8,442.4 1386.5,443.4 1400.8,444.5 1415.6,445.7 1426.8,446.7 1434.3,447.3 1438.0,447.6" fill="none" stroke="#4b0082" stroke-width="3.4" stroke-linejoin="round"/>
<polyline points="297.0,35.0 297.4,44.1 298.3,62.2 299.6,89.4 301.4,125.6 302.8,154.3 303.8,175.5 304.4,189.1 304.6,195.2 305.1,199.9 305.9,203.2 306.9,205.1 308.1,205.6 309.9,206.1 312.1,206.6 314.8,207.0 318.1,207.3 321.5,208.0 325.3,208.9 329.3,210.0 333.6,211.5 337.7,212.9 341.6,214.4 345.4,216.0 348.9,217.6 352.8,219.2 356.9,220.8 361.3,222.4 365.9,224.1 370.0,225.5 373.6,226.6 376.6,227.5 379.1,228.2 381.7,229.2 384.4,230.5 387.2,232.0 390.1,233.8 393.1,235.7 396.4,237.8 399.8,240.0 403.3,242.3 407.2,244.8 411.3,247.5 415.6,250.3 420.3,253.4 424.1,255.6 427.1,257.0 429.4,257.6 430.8,257.5 433.1,258.0 436.1,259.4 439.9,261.5 444.6,264.3 448.9,267.2 453.0,270.0 456.9,272.9 460.4,275.7 464.0,278.7 467.6,281.7 471.1,284.8 474.7,288.1 478.7,291.3 483.1,294.5 488.0,297.7 493.4,301.0 498.7,303.9 504.1,306.4 509.5,308.6 514.8,310.5 520.9,312.3 527.6,314.0 535.0,315.7 543.0,317.3 551.1,318.8 559.1,320.1 567.1,321.3 575.2,322.4 583.9,323.6 593.2,324.9 603.3,326.4 614.0,328.0 624.1,329.6 633.5,331.2 642.2,332.8 650.2,334.5 657.6,336.0 664.3,337.5 670.3,338.9 675.7,340.2 681.7,342.1 688.4,344.5 695.8,347.4 703.8,350.9 711.9,354.4 719.9,357.7 728.0,361.0 736.0,364.2 744.1,367.1 752.1,369.7 760.1,372.1 768.0,374.1 777.3,376.3 787.8,378.6 799.6,381.1 812.6,383.7 825.7,386.1 838.7,388.3 851.7,390.3 864.8,392.2 877.8,394.0 890.8,395.8 903.9,397.6 916.9,399.5 930.0,401.2 943.0,402.7 956.0,404.1 969.1,405.4 982.1,406.7 995.1,407.9 1008.2,409.0 1021.2,410.0 1033.5,411.1 1044.9,412.1 1055.5,413.0 1065.3,414.0 1076.4,415.0 1088.9,416.0 1102.7,417.2 1117.9,418.3 1133.1,419.6 1148.5,421.0 1164.1,422.4 1179.7,424.0 1195.4,425.5 1211.0,427.1 1226.7,428.7 1242.3,430.2 1256.4,431.8 1268.9,433.4 1279.9,435.0 1289.2,436.5 1298.6,438.2 1308.0,439.9 1317.4,441.7 1326.8,443.6 1337.0,445.4 1347.9,447.1 1359.7,448.7 1372.2,450.3 1384.5,451.8 1396.6,453.4 1408.6,455.0 1420.3,456.5 1429.2,457.7 1435.1,458.5 1438.0,458.9" fill="none" stroke="#00ffff" stroke-width="3.6" stroke-linejoin="round"/>
<polyline points="295.5,35.0 295.7,44.1 296.0,62.2 296.6,89.4 297.3,125.6 298.1,158.4 299.1,187.8 300.1,213.8 301.3,236.2 302.4,254.5 303.5,268.4 304.6,278.1 305.6,283.4 306.8,287.7 308.0,291.0 309.3,293.1 310.8,294.2 312.3,295.0 313.9,295.7 315.6,296.1 317.3,296.2 319.6,296.7 322.2,297.4 325.4,298.4 328.9,299.6 332.5,300.8 336.1,301.9 339.7,302.9 343.2,303.8 346.4,304.3 349.1,304.6 351.3,304.6 353.1,304.2 355.1,304.1 357.2,304.2 359.6,304.5 362.1,305.0 364.8,305.7 367.9,306.6 371.2,307.7 374.7,308.9 378.3,310.2 381.9,311.4 385.5,312.7 389.0,313.9 392.4,315.1 395.6,316.3 398.7,317.4 401.5,318.5 404.0,319.3 406.2,320.0 407.9,320.4 409.4,320.5 410.9,321.2 412.5,322.5 414.2,324.3 416.0,326.6 418.1,328.6 420.4,330.3 423.0,331.7 425.8,332.8 429.8,334.0 434.8,335.5 440.8,337.1 448.0,338.9 454.7,340.6 460.9,342.3 466.7,343.9 472.0,345.4 476.8,346.7 481.1,347.8 484.8,348.8 488.1,349.6 493.0,350.3 499.7,351.0 508.2,351.6 518.3,352.1 529.3,352.6 541.1,353.0 553.7,353.5 567.1,353.8 579.8,354.2 591.9,354.6 603.3,355.1 614.0,355.5 623.7,356.1 632.3,356.7 639.8,357.4 646.2,358.2 652.4,359.5 658.3,361.4 663.9,363.8 669.3,366.8 674.4,369.6 679.2,372.3 683.8,374.8 688.1,377.2 692.6,379.9 697.4,383.0 702.5,386.4 707.9,390.2 713.0,393.6 717.8,396.7 722.4,399.4 726.6,401.9 730.8,403.9 734.8,405.5 738.7,406.7 742.5,407.5 747.3,408.1 753.1,408.5 760.1,408.7 768.0,408.8 777.3,408.9 787.8,409.1 799.6,409.5 812.6,409.9 825.0,410.4 836.8,410.9 847.8,411.4 858.3,411.9 868.0,412.6 877.2,413.5 885.6,414.6 893.5,415.9 900.9,417.5 907.9,419.3 914.6,421.4 920.8,423.8 925.8,425.8 929.6,427.5 932.2,428.8 933.4,429.9 934.8,431.4 936.1,433.5 937.4,436.1 938.7,439.3 940.7,441.8 943.5,443.6 946.9,444.8 951.1,445.2 957.4,445.7 966.0,446.1 976.9,446.5 989.9,446.8 1004.1,447.1 1019.5,447.4 1035.9,447.8 1053.6,448.0 1068.2,448.3 1079.9,448.5 1088.6,448.7 1094.4,448.8 1101.0,449.2 1108.6,450.0 1117.1,451.2 1126.5,452.8 1137.5,454.4 1150.0,456.1 1164.1,457.9 1179.7,459.8 1195.4,461.6 1211.0,463.3 1226.7,465.0 1242.3,466.5 1256.4,468.0 1268.9,469.4 1279.9,470.8 1289.2,472.0 1297.8,473.1 1305.7,474.1 1312.7,474.8 1319.0,475.5 1325.3,475.9 1331.5,476.2 1337.8,476.4 1344.0,476.4 1350.3,476.6 1356.5,477.1 1362.8,477.8 1369.0,478.8 1374.1,479.5 1378.1,480.1 1380.9,480.5 1382.5,480.7 1383.8,480.9 1384.6,480.9 1385.0,481.0" fill="none" stroke="#ff0000" stroke-width="3.4" stroke-linejoin="round"/>
<polyline points="295.5,35.0 295.7,44.1 296.0,62.2 296.6,89.4 297.3,125.6 298.1,160.3 299.1,193.4 300.1,225.0 301.3,255.0 302.3,279.1 303.3,297.2 304.1,309.4 304.9,315.6 305.5,320.6 306.0,324.4 306.5,326.9 306.8,328.1 307.3,329.3 308.2,330.5 309.3,331.6 310.8,332.8 313.6,333.9 317.9,335.2 323.6,336.5 330.8,338.0 338.6,339.3 347.2,340.6 356.5,341.7 366.5,342.8 374.5,344.0 380.6,345.5 384.7,347.1 386.9,348.9 390.8,351.2 396.5,354.1 404.1,357.5 413.4,361.4 421.9,364.8 429.8,367.7 436.9,370.0 443.4,371.8 448.9,373.5 453.6,375.1 457.3,376.6 460.2,378.1 463.1,380.4 465.9,383.6 468.8,387.7 471.6,392.7 474.0,396.7 476.0,399.7 477.4,401.8 478.5,402.8 479.9,404.1 481.8,405.5 484.0,407.2 486.7,409.1 490.0,410.6 494.1,411.8 498.8,412.7 504.1,413.2 511.5,413.6 520.9,413.9 532.3,414.0 545.7,414.0 558.4,414.0 570.5,414.0 581.9,414.0 592.6,414.0 604.7,414.0 618.1,414.0 632.8,414.0 648.9,414.0 662.3,414.1 673.0,414.4 681.1,414.8 686.4,415.4 691.5,416.3 696.4,417.5 700.9,419.0 705.2,420.9 709.4,422.9 713.5,425.1 717.6,427.3 721.7,429.8 725.0,432.6 727.7,435.8 729.7,439.4 731.1,443.4 733.0,446.5 735.6,448.6 738.7,449.8 742.5,450.1 747.3,450.3 753.1,450.4 760.1,450.4 768.0,450.4 777.3,450.5 787.8,450.9 799.6,451.4 812.6,452.2 825.7,453.1 838.7,454.1 851.7,455.3 864.8,456.6 877.8,457.9 890.8,459.2 903.9,460.6 916.9,461.9 930.0,463.1 943.0,464.3 956.0,465.4 969.1,466.4 982.1,467.5 995.1,468.5 1008.2,469.5 1021.2,470.6 1031.7,471.5 1039.5,472.2 1044.7,472.9 1047.3,473.4 1050.9,473.7 1055.6,473.8 1061.2,473.6 1067.9,473.3 1073.9,473.3 1079.1,473.7 1083.6,474.6 1087.4,475.8 1092.8,476.9 1100.1,477.9 1109.0,478.6 1119.6,479.3 1127.9,479.8 1133.8,480.2 1137.2,480.5 1138.3,480.7 1139.2,480.9 1139.7,480.9 1140.0,481.0" fill="none" stroke="#ff0000" stroke-width="3.4" stroke-linejoin="round"/>
<polyline points="298.8,35.0 299.0,44.1 299.3,62.2 299.8,89.4 300.5,125.6 301.2,160.3 302.0,193.4 302.8,225.0 303.7,255.0 304.5,279.3 305.2,297.9 305.8,310.8 306.4,317.9 307.1,323.5 308.1,327.4 309.3,329.8 310.8,330.5 312.7,331.0 315.2,331.1 318.3,331.0 321.8,330.7 326.3,330.8 331.7,331.5 337.9,332.8 345.1,334.5 352.2,336.3 359.4,338.1 366.5,339.9 373.7,341.7 380.8,344.0 388.0,346.9 395.1,350.3 402.3,354.3 409.4,358.5 416.6,363.0 423.7,367.7 430.9,372.7 438.0,377.8 445.2,383.0 452.3,388.2 459.5,393.6 465.4,397.9 470.2,401.2 473.9,403.4 476.3,404.7 479.5,406.1 483.4,407.8 488.0,409.7 493.4,411.9 498.7,414.0 504.1,416.0 509.5,417.9 514.8,419.8 520.9,421.5 527.6,422.9 535.0,424.2 543.0,425.3 552.4,426.3 563.1,427.2 575.2,428.1 588.6,428.9 601.3,429.7 613.4,430.5 624.8,431.3 635.5,432.2 644.2,433.0 650.9,433.8 655.6,434.6 658.3,435.4 661.1,436.5 664.0,438.0 667.1,439.8 670.4,442.0 673.1,444.3 675.4,446.9 677.2,449.6 678.5,452.6 680.4,454.9 682.8,456.4 685.8,457.4 689.2,457.6 694.5,457.9 701.7,458.1 710.6,458.4 721.2,458.7 731.9,459.0 742.6,459.3 753.3,459.7 764.0,460.0 775.3,460.5 787.1,461.1 799.6,461.8 812.6,462.6 825.7,463.6 838.7,464.8 851.7,466.1 864.8,467.7 877.8,469.1 890.8,470.4 903.9,471.6 916.9,472.6 930.0,473.5 943.0,474.3 956.0,475.0 969.1,475.5 982.1,476.1 995.1,476.8 1008.2,477.5 1021.2,478.2 1032.2,478.9 1041.1,479.5 1048.0,480.0 1052.8,480.4 1056.4,480.7 1058.8,480.9 1060.0,481.0" fill="none" stroke="#0000ff" stroke-width="3.4" stroke-linejoin="round"/>
<polyline points="298.8,35.0 299.0,44.1 299.3,62.2 299.8,89.4 300.5,125.6 301.3,161.6 302.2,197.2 303.2,232.5 304.3,267.5 305.4,295.7 306.5,317.2 307.5,331.9 308.5,339.8 309.5,347.5 310.6,355.0 311.6,362.3 312.7,369.5 313.6,375.0 314.4,378.9 315.1,381.1 315.7,381.7 316.4,382.2 317.3,382.6 318.4,383.0 319.6,383.2 321.2,383.3 323.0,383.1 325.1,382.8 327.4,382.3 329.9,381.8 332.4,381.4 334.9,381.0 337.6,380.7 340.8,380.4 344.6,380.3 349.0,380.2 354.0,380.2 358.0,380.3 361.1,380.5 363.2,380.9 364.3,381.3 365.3,382.1 366.2,383.1 367.0,384.5 367.7,386.2 368.3,388.8 368.9,392.3 369.4,396.7 369.8,402.0 370.2,407.9 370.6,414.3 371.0,421.2 371.2,428.8 371.6,435.3 372.1,440.9 372.6,445.6 373.1,449.4 373.7,452.8 374.3,455.8 374.9,458.4 375.6,460.6 376.2,462.6 376.9,464.3 377.5,465.7 378.2,466.8 379.0,467.8 379.9,468.7 381.0,469.6 382.2,470.3 383.5,471.0 384.8,471.7 386.2,472.2 387.8,472.8 389.5,473.2 391.5,473.8 393.8,474.2 396.2,474.8 398.6,475.2 400.9,475.5 403.0,475.8 405.0,476.0 406.9,476.2 408.6,476.5 410.2,476.8 411.8,477.0 413.5,477.5 415.6,478.0 417.9,478.6 420.4,479.4 422.4,479.9 423.7,480.3 424.3,480.5" fill="none" stroke="#0000ff" stroke-width="3.4" stroke-linejoin="round"/>
</g>
<path d="M198.6 480.6 L1436.8 480.6 M237.3 476.1 v9.0 M276.0 471.6 v18.0 M314.7 476.1 v9.0 M353.4 476.1 v9.0 M392.1 476.1 v9.0 M430.8 476.1 v9.0 M469.5 471.6 v18.0 M508.2 476.1 v9.0 M546.8 476.1 v9.0 M585.5 476.1 v9.0 M624.2 476.1 v9.0 M662.9 471.6 v18.0 M701.6 476.1 v9.0 M740.3 476.1 v9.0 M779.0 476.1 v9.0 M817.7 476.1 v9.0 M856.4 471.6 v18.0 M895.1 476.1 v9.0 M933.8 476.1 v9.0 M972.5 476.1 v9.0 M1011.2 476.1 v9.0 M1049.9 471.6 v18.0 M1088.6 476.1 v9.0 M1127.2 476.1 v9.0 M1165.9 476.1 v9.0 M1204.6 476.1 v9.0 M1243.3 471.6 v18.0 M1282.0 476.1 v9.0 M1320.7 476.1 v9.0 M1359.4 476.1 v9.0 M1398.1 476.1 v9.0" stroke="#000" stroke-width="2.4" fill="none"/>
<g clip-path="url(#cB)">
<polyline points="199.0,910.0 295.8,909.5 302.9,795.8 308.6,832.9 315.7,800.0 341.5,650.0 352.9,577.2 362.9,558.6 368.6,545.7 374.4,542.9 380.8,530.7 384.4,542.9 388.6,547.2 392.2,543.5 395.8,545.7 400.1,562.9 405.8,542.9 407.9,530.7 411.5,547.2 415.8,554.3 419.4,556.2 423.0,552.2 426.8,551.4 430.6,558.0 434.4,557.2 438.7,552.8 443.0,554.3 447.2,562.1 451.5,564.3 455.8,560.1 460.1,564.0 464.4,557.3 468.7,558.6 474.4,562.9 480.0,577.9 484.3,582.8 488.6,582.2 492.9,591.3 497.2,605.8 501.5,609.7 505.7,606.0 510.0,610.1 513.2,622.4 516.5,629.4 521.9,628.7 527.2,633.7 531.5,644.4 535.8,648.1 540.0,642.8 544.3,646.5 548.6,647.1 552.9,642.2 557.2,641.7 561.5,646.5 565.8,651.9 570.1,649.8 574.4,655.1 578.6,656.5 582.9,653.0 588.3,654.6 593.7,661.5 596.9,657.7 600.1,648.7 604.4,649.6 608.7,658.8 613.0,659.4 617.3,646.5 621.5,661.5 625.8,654.5 630.1,653.0 634.4,656.8 638.7,655.1 644.0,657.9 649.4,665.8 652.6,661.8 655.9,653.0 660.2,652.5 664.4,659.7 668.7,659.4 673.0,658.8 677.3,666.7 681.6,665.8 685.9,658.7 690.2,657.2 694.5,660.4 698.7,655.7 703.0,659.4 707.3,665.8 711.6,663.7 715.9,670.1 720.2,667.7 724.5,659.4 728.8,676.5 733.1,675.8 737.3,683.7 741.6,683.0 744.9,677.1 748.1,676.5 753.5,688.1 758.8,693.7 763.1,690.0 767.4,694.8 771.7,691.6 775.9,702.2 780.0,718.6 785.4,727.9 790.7,731.5 795.0,724.5 799.3,722.9 802.5,736.3 805.7,744.3 810.0,733.6 814.3,733.1 818.6,737.9 822.9,750.5 827.2,757.2 831.5,758.8 835.8,765.8 840.0,766.5 844.3,761.5 848.6,764.6 852.9,775.8 857.2,778.6 862.2,780.0 867.2,789.9 872.2,791.5 875.4,780.8 879.1,786.6 882.9,797.9 887.2,800.9 891.5,795.1 895.8,797.9 900.1,803.5 904.4,801.1 908.7,806.5 914.0,812.3 919.4,813.0 924.8,808.0 930.1,808.7 935.1,814.8 940.1,812.9 945.1,819.4 950.5,825.2 955.9,825.8 961.2,825.0 966.6,830.1 972.0,834.8 977.3,834.4 982.3,830.7 987.3,835.8 992.3,832.3 997.3,832.4 1002.3,840.7 1007.3,840.8 1011.6,839.1 1015.9,845.7 1020.2,841.4 1024.5,845.1 1028.8,849.8 1033.0,846.7 1037.3,851.6 1041.6,855.3 1045.9,850.2 1050.2,853.7 1055.2,856.1 1060.2,850.8 1065.2,853.7 1069.3,857.1 1073.3,851.8 1077.4,857.8 1081.4,853.0 1085.5,856.4 1090.5,861.8 1095.5,859.5 1100.5,865.2 1105.5,866.5 1110.6,860.1 1115.6,861.4 1119.3,868.7 1123.1,870.2 1127.5,866.8 1131.8,871.0 1136.2,864.4 1140.6,866.4 1145.6,871.1 1150.6,868.3 1155.6,875.9 1160.6,875.2 1165.6,874.6 1170.6,882.2 1175.6,881.4 1180.0,875.9 1184.4,877.8 1188.8,869.5 1193.2,868.9 1197.4,875.5 1201.5,874.0 1205.7,880.2 1210.2,882.9 1214.7,877.3 1219.2,882.3 1223.7,876.7 1228.2,878.9 1233.2,883.6 1238.2,880.2 1243.2,885.2 1248.2,887.3 1253.3,881.8 1258.3,883.9 1263.3,887.0 1268.3,881.9 1273.3,887.3 1278.3,885.2 1282.5,882.6 1286.6,888.5 1290.8,884.0 1295.0,889.5 1299.1,884.5 1303.3,887.7 1307.5,891.2 1311.7,886.5 1315.8,892.2 1320.0,887.7 1324.2,893.5 1328.4,891.4 1332.6,888.8 1336.7,894.7 1340.9,889.1 1345.1,895.1 1349.2,889.6 1353.4,892.7 1357.6,896.2 1361.7,891.3 1365.9,897.1 1370.1,892.4 1374.2,898.5 1378.4,896.5 1382.6,894.7 1386.8,900.4 1391.0,895.4 1395.1,901.4 1399.3,896.8 1403.5,900.2 1407.8,903.1 1412.1,898.1 1416.4,903.6 1420.8,898.5 1425.1,904.3 1429.4,899.3 1433.7,905.0 1438.0,902.7" fill="none" stroke="#000000" stroke-width="3.3" stroke-linejoin="round"/>
<polyline points="199.0,910.0 297.0,909.5 321.0,800.0 340.0,650.0 350.0,561.5 358.6,535.7 361.5,533.6 364.3,541.5 368.6,537.2 372.9,552.9 377.2,557.2 384.4,605.1 388.7,593.3 392.9,589.0 397.2,577.2 400.1,557.2 403.6,548.1 407.2,544.3 411.5,544.3 415.8,538.6 419.4,536.8 423.0,530.0 428.7,542.9 432.2,546.2 435.8,554.3 438.7,547.2 444.4,560.0 447.9,564.8 451.5,564.3 455.8,559.9 460.1,561.5 464.4,581.5 468.7,568.6 473.0,591.5 476.5,592.6 480.0,588.0 484.3,586.1 488.6,592.4 492.9,590.8 497.1,595.6 501.4,605.8 505.7,611.9 510.0,610.4 514.3,616.5 518.6,615.8 522.9,610.1 528.2,603.3 533.6,601.5 537.9,618.4 542.2,629.4 547.5,620.1 552.9,616.5 557.2,625.8 561.5,629.4 565.8,616.9 570.1,610.1 574.4,613.7 578.6,612.2 582.9,613.9 587.2,620.8 591.5,627.1 595.8,625.1 600.1,631.5 604.4,631.2 608.7,625.1 613.0,620.7 617.2,624.7 621.5,620.8 625.8,623.4 630.1,631.5 634.4,633.2 638.7,626.6 643.0,630.8 647.3,627.2 652.6,626.7 658.0,631.5 662.3,632.9 666.6,629.4 672.0,630.7 677.3,637.9 681.6,648.4 685.9,653.0 690.2,652.4 694.5,657.2 698.8,666.2 703.0,670.1 707.3,669.3 711.6,674.4 715.9,678.2 720.2,676.5 724.5,678.6 728.8,689.5 733.1,691.6 737.4,691.0 741.6,698.5 745.9,698.0 750.2,699.5 754.5,706.6 758.8,714.6 763.1,717.3 767.3,716.2 771.5,722.7 775.8,718.6 780.0,722.9 784.3,731.0 788.6,731.9 792.9,740.0 797.1,748.2 801.4,750.8 805.7,750.4 810.0,757.8 814.3,757.2 818.6,758.1 822.9,766.9 827.2,767.9 832.5,760.6 837.9,759.3 841.1,770.4 844.3,776.5 848.6,777.6 852.9,786.5 857.2,785.0 861.5,791.5 866.9,797.3 872.2,797.9 877.5,799.6 882.9,806.5 887.9,809.3 892.9,803.9 897.9,806.5 903.3,814.6 908.7,817.3 913.0,815.8 917.2,822.6 921.5,821.5 925.8,821.9 930.1,829.8 934.4,830.1 938.7,826.2 943.0,828.0 947.3,832.9 951.6,829.7 955.9,834.4 960.2,839.1 964.5,836.2 968.7,843.5 973.0,843.0 977.3,842.7 981.6,850.1 985.9,846.5 990.2,851.6 994.5,856.2 998.8,852.0 1003.0,859.4 1007.3,858.0 1011.6,856.7 1015.9,862.7 1020.2,858.2 1024.5,862.3 1028.8,866.2 1033.0,861.8 1037.3,868.5 1041.6,866.6 1045.9,865.4 1050.2,872.7 1054.5,868.8 1058.8,873.0 1063.0,876.1 1067.3,871.5 1071.5,877.3 1075.8,872.8 1080.0,876.0 1084.6,879.8 1089.2,875.1 1093.8,880.9 1098.4,876.9 1103.0,880.2 1107.2,883.5 1111.4,879.0 1115.5,885.3 1119.7,881.0 1123.9,886.8 1128.1,885.2 1132.3,882.8 1136.4,889.1 1140.6,884.5 1144.8,890.1 1148.9,885.9 1153.1,888.9 1157.3,891.8 1161.5,886.9 1165.7,892.6 1169.8,888.1 1174.0,893.7 1178.2,891.4 1182.4,889.1 1186.5,894.8 1190.7,889.6 1194.9,895.0 1199.0,889.6 1203.2,892.7 1207.4,895.6 1211.5,890.1 1215.7,896.0 1219.9,891.0 1224.0,896.4 1228.2,894.0 1232.4,891.8 1236.6,897.1 1240.8,892.1 1244.9,897.7 1249.1,892.1 1253.3,895.2 1257.5,898.3 1261.6,893.6 1265.8,899.0 1270.0,894.3 1274.1,899.8 1278.3,897.7 1282.5,895.4 1286.6,901.1 1290.8,895.9 1295.0,901.0 1299.1,895.8 1303.3,899.0 1307.5,901.9 1311.7,896.4 1315.8,902.2 1320.0,896.9 1324.2,902.8 1328.4,900.2 1332.6,897.5 1336.7,903.5 1340.9,898.2 1345.1,903.5 1349.2,898.8 1353.4,901.5 1357.6,904.4 1361.7,898.6 1365.9,904.5 1370.1,898.9 1374.2,904.3 1378.4,901.5 1382.7,897.9 1387.0,902.9 1391.3,896.5 1395.6,901.4 1399.9,895.1 1404.2,900.0 1408.5,896.5 1412.7,894.7 1416.9,900.9 1421.1,895.7 1425.4,901.8 1429.6,897.1 1433.8,903.8 1438.0,901.5" fill="none" stroke="#4b0082" stroke-width="3.3" stroke-linejoin="round"/>
<polyline points="199.0,910.0 297.0,909.5 320.0,800.0 344.3,650.0 357.2,592.9 362.9,578.6 368.6,554.3 374.4,548.6 384.4,537.2 388.6,547.2 392.2,538.9 395.8,535.7 401.5,545.7 407.2,537.2 413.0,544.3 416.6,543.5 420.1,537.2 425.1,543.1 430.1,554.3 433.6,551.4 437.2,542.9 440.8,545.1 444.4,552.9 447.9,548.2 451.5,538.6 457.3,554.3 461.6,538.6 465.1,543.3 468.7,552.9 473.0,540.0 476.5,550.9 480.0,556.0 484.3,561.2 488.6,571.5 492.9,574.0 497.2,571.5 501.4,577.1 505.7,588.6 510.0,597.7 514.3,601.5 518.6,598.6 522.9,604.2 527.2,601.5 531.5,614.4 535.8,611.6 540.0,616.9 544.3,614.4 548.6,616.6 552.9,627.3 557.2,629.4 561.5,627.4 565.8,633.6 570.1,631.5 574.4,628.2 578.7,632.9 582.9,627.1 587.2,629.4 591.5,635.0 595.8,632.5 600.1,637.9 604.4,639.8 608.7,633.9 613.0,639.0 617.3,635.8 621.6,636.2 625.8,645.2 630.1,642.6 634.4,648.7 638.7,652.7 643.0,648.2 647.3,654.8 651.6,653.0 655.9,650.3 660.1,656.0 664.4,653.0 668.7,650.8 673.0,656.9 677.3,655.1 681.6,651.6 685.9,653.0 690.2,664.1 694.5,670.1 698.8,667.1 703.0,672.8 707.3,670.1 711.6,678.1 715.9,691.6 720.2,698.4 724.5,697.4 728.8,704.4 733.0,715.6 737.3,721.6 742.3,721.9 747.4,730.1 752.4,730.2 756.2,737.3 760.0,750.0 765.0,756.3 770.0,754.0 775.0,763.2 780.0,763.6 783.2,768.2 786.4,778.6 789.6,777.3 792.9,770.1 797.1,772.6 801.4,780.8 805.7,786.5 810.0,787.2 814.3,787.2 818.6,795.9 822.9,795.8 828.2,801.5 833.6,813.0 839.0,812.5 844.3,806.5 848.6,808.0 852.9,815.1 857.2,817.6 861.5,812.2 865.8,815.1 870.1,822.1 874.3,821.1 878.6,828.0 882.9,831.9 887.2,828.0 891.5,832.3 895.8,833.1 900.1,828.0 904.4,830.9 908.7,841.6 913.0,841.4 917.3,849.4 921.5,851.9 925.8,849.4 930.1,845.4 934.4,849.4 938.7,845.1 943.0,842.9 947.3,849.0 951.6,847.3 957.0,847.7 962.3,853.7 967.6,857.2 973.0,855.9 977.3,853.6 981.6,859.5 985.9,854.5 990.2,858.0 994.5,864.6 998.7,862.4 1003.0,868.7 1007.3,871.0 1011.6,864.7 1015.9,866.6 1020.2,870.6 1024.5,867.0 1028.8,873.8 1033.1,873.0 1037.4,871.0 1041.7,876.7 1045.9,871.9 1050.2,875.2 1055.2,879.1 1060.2,875.6 1065.2,879.4 1070.1,881.2 1075.1,874.5 1080.0,876.0 1084.6,879.8 1089.2,874.7 1093.8,881.1 1098.4,876.7 1103.0,880.2 1107.2,883.5 1111.4,878.6 1115.5,884.8 1119.7,879.9 1123.9,886.1 1128.1,883.9 1132.3,881.4 1136.4,887.4 1140.6,882.5 1144.8,888.4 1148.9,883.4 1153.1,886.4 1157.3,889.4 1161.5,884.2 1165.7,890.4 1169.8,885.3 1174.0,890.9 1178.2,888.9 1182.4,886.7 1186.5,892.5 1190.7,887.7 1194.9,893.3 1199.0,888.2 1203.2,891.4 1207.4,894.3 1211.5,889.5 1215.7,895.4 1219.9,890.3 1224.0,896.2 1228.2,894.0 1232.4,891.6 1236.6,897.7 1240.8,892.8 1244.9,898.1 1249.1,893.3 1253.3,896.5 1257.5,899.7 1261.6,894.3 1265.8,899.8 1270.0,894.5 1274.1,900.1 1278.3,897.7 1282.5,895.5 1286.6,901.1 1290.8,896.3 1295.0,902.1 1299.1,897.2 1303.3,900.2 1307.5,903.0 1311.7,897.8 1315.8,903.3 1320.0,898.3 1324.2,904.1 1328.4,901.5 1332.6,899.3 1336.7,904.9 1340.9,899.9 1345.1,905.7 1349.2,901.1 1353.4,904.0 1357.6,906.7 1361.7,901.2 1365.9,906.5 1370.1,901.4 1374.2,906.6 1378.4,904.0 1383.0,901.3 1387.6,907.0 1392.2,901.7 1396.7,907.3 1401.3,902.4 1405.9,907.9 1410.5,902.4 1415.1,908.2 1419.7,903.2 1424.2,908.4 1428.8,903.4 1433.4,908.8 1438.0,906.5" fill="none" stroke="#ff7f00" stroke-width="3.3" stroke-linejoin="round"/>
<polyline points="199.0,910.0 297.0,909.5 298.6,884.4 317.2,770.0 325.7,700.0 332.9,650.0 344.3,560.0 352.9,525.0 360.1,547.2 365.8,560.0 371.5,588.6 377.2,622.9 380.1,633.0 384.4,611.5 388.6,613.0 392.9,620.1 396.5,629.7 400.1,633.7 404.4,608.7 407.9,607.9 411.5,612.9 415.8,592.9 421.5,575.8 425.8,552.9 428.7,548.6 434.4,525.0 437.9,538.3 441.5,545.7 445.8,555.8 449.4,551.9 453.0,553.6 458.0,577.2 461.6,567.2 465.9,576.6 470.1,580.1 475.1,581.9 480.0,588.6 484.3,595.6 488.6,594.2 492.9,601.5 497.2,602.2 501.4,594.3 505.7,595.1 510.0,618.6 514.3,619.7 518.6,613.1 522.9,614.4 527.2,620.1 531.5,620.8 535.8,614.9 540.0,614.4 545.4,625.7 550.8,631.5 556.1,620.5 561.5,614.4 565.8,625.5 570.1,631.5 574.4,626.8 578.6,627.2 582.9,630.9 587.2,625.8 591.5,629.4 595.8,636.1 600.1,637.9 605.5,631.8 610.8,631.5 616.1,641.5 621.5,646.5 624.8,637.3 628.0,633.7 633.4,641.5 638.7,644.4 643.0,645.6 647.3,654.5 651.6,655.1 657.0,648.3 662.3,646.5 666.6,646.2 670.9,637.8 675.2,637.9 678.4,647.3 681.6,650.8 685.9,645.0 690.2,644.4 694.5,650.9 698.7,648.8 703.0,655.1 708.4,655.8 713.8,650.8 718.1,665.8 723.5,674.0 728.8,687.3 733.0,688.1 737.3,683.0 741.6,684.5 745.9,691.6 750.2,705.3 754.5,710.1 758.8,723.7 763.1,731.6 767.4,734.4 771.6,732.2 775.8,737.8 780.0,735.8 784.3,737.6 788.6,744.3 792.9,755.3 797.2,761.5 802.5,763.2 807.9,770.1 812.2,779.3 816.5,782.9 819.7,776.2 822.9,774.4 827.2,783.6 831.5,787.2 835.8,786.8 840.0,794.1 844.3,793.7 849.7,798.3 855.1,808.7 859.4,808.1 863.6,802.2 867.9,807.2 872.2,817.3 877.2,820.0 882.2,814.5 887.2,817.3 891.5,820.4 895.8,815.7 900.1,819.4 904.4,825.4 908.7,823.7 913.0,830.1 917.3,836.8 921.5,835.2 925.8,844.2 930.1,845.1 934.4,835.0 938.7,830.1 943.0,837.1 947.3,836.3 951.6,843.0 954.8,848.6 958.0,849.4 963.0,846.9 968.0,852.4 973.0,849.4 977.3,848.3 981.6,855.1 985.9,853.7 990.9,852.9 995.9,860.9 1000.9,860.1 1005.9,856.8 1010.9,861.3 1015.9,858.0 1020.2,857.4 1024.5,865.1 1028.8,864.4 1033.1,863.0 1037.3,869.4 1041.6,864.7 1045.9,868.7 1050.2,871.6 1054.5,866.3 1058.8,871.7 1063.1,868.7 1068.1,866.3 1073.0,871.4 1078.0,868.9 1083.0,866.1 1088.0,868.9 1093.0,874.0 1098.0,870.5 1103.0,875.2 1107.2,877.9 1111.4,872.0 1115.5,877.1 1119.7,871.7 1123.9,876.6 1128.1,873.9 1132.3,871.9 1136.4,877.2 1140.6,872.3 1144.8,878.6 1148.9,873.5 1153.1,876.4 1157.3,879.9 1161.5,875.5 1165.7,882.3 1169.8,878.0 1174.0,884.2 1178.2,882.7 1182.4,880.8 1186.5,887.3 1190.7,882.5 1194.9,888.7 1199.0,884.4 1203.2,887.7 1207.4,890.6 1211.5,885.3 1215.7,890.4 1219.9,884.8 1224.0,890.2 1228.2,887.7 1232.4,885.1 1236.6,891.1 1240.8,885.5 1244.9,891.4 1249.1,886.2 1253.3,888.9 1257.5,892.0 1261.6,887.2 1265.8,893.1 1270.0,888.0 1274.1,893.7 1278.3,891.4 1282.5,889.0 1286.6,895.6 1290.8,890.3 1295.0,896.6 1299.1,891.9 1303.3,895.2 1307.5,898.3 1311.7,892.9 1315.8,898.4 1320.0,893.4 1324.2,898.8 1328.4,896.5 1332.6,894.1 1336.7,899.9 1340.9,894.1 1345.1,900.1 1349.2,894.8 1353.4,897.7 1357.6,900.7 1361.7,896.1 1365.9,901.5 1370.1,896.5 1374.2,902.7 1378.4,900.2 1382.6,897.8 1386.8,903.5 1391.0,898.0 1395.1,903.9 1399.3,898.5 1403.5,901.5 1407.8,904.7 1412.1,899.5 1416.4,905.3 1420.8,900.2 1425.1,905.8 1429.4,900.5 1433.7,906.5 1438.0,904.0" fill="none" stroke="#00ffff" stroke-width="3.3" stroke-linejoin="round"/>
<polyline points="199.0,910.0 286.0,910.0 291.5,903.0 297.0,910.0 300.0,909.5 317.2,812.9 330.0,678.6 337.2,650.0 348.6,561.5 357.2,542.9 364.3,547.2 370.1,562.9 374.4,600.1 380.1,625.8 384.4,635.5 388.6,650.0 394.4,661.4 398.7,681.5 403.7,691.0 408.7,695.7 413.7,690.6 418.7,690.0 423.0,718.6 426.5,739.3 430.0,755.8 434.3,764.3 438.6,753.7 442.9,747.2 447.2,761.1 450.4,758.6 453.6,751.5 457.9,754.6 462.2,762.2 465.4,764.6 468.6,762.2 472.9,775.1 476.1,771.8 479.4,772.9 482.6,778.5 485.8,779.3 489.0,782.6 492.2,790.1 495.4,795.7 498.7,796.5 503.0,785.8 506.2,788.8 509.4,796.5 514.8,796.6 520.1,792.2 523.3,791.0 526.5,794.4 529.8,803.1 533.0,807.2 537.3,803.0 541.6,802.9 544.8,803.0 548.0,798.6 552.3,809.4 557.6,802.7 563.0,800.8 568.4,812.6 573.7,820.1 578.0,811.2 582.3,807.2 587.3,809.5 592.3,804.8 597.3,807.2 600.5,807.2 603.8,802.9 609.1,804.1 614.5,809.4 618.8,805.4 623.0,796.5 628.4,799.4 633.8,807.2 639.0,800.0 644.2,788.4 647.5,790.9 650.8,797.5 655.0,789.2 660.0,789.2 665.0,785.0 669.6,777.7 674.2,775.0 678.4,791.7 681.7,785.0 685.9,797.6 690.0,805.9 693.8,801.3 697.5,801.7 702.6,810.1 705.9,805.1 709.2,820.9 713.4,813.4 717.6,816.7 723.4,830.1 728.4,847.6 731.7,840.9 736.7,855.1 740.0,860.3 743.4,860.9 748.4,866.8 753.4,874.3 756.8,871.3 760.1,872.6 765.1,876.8 768.5,877.4 771.8,873.4 775.1,872.5 778.4,876.0 783.5,870.9 788.5,878.4 791.8,880.3 795.0,877.3 800.4,877.0 805.7,881.6 810.7,880.3 815.7,872.1 820.7,870.9 825.7,875.4 830.8,872.8 835.8,877.3 840.6,879.3 845.5,874.2 850.3,877.9 855.1,875.2 859.4,873.4 863.7,878.4 867.9,874.5 872.2,877.3 877.5,876.1 882.9,870.9 887.2,866.3 891.5,866.6 895.8,868.3 900.1,863.4 904.4,867.3 908.7,864.4 913.0,858.7 917.2,859.4 921.5,853.7 925.8,856.5 930.1,865.8 934.4,868.7 937.6,863.4 940.8,862.3 945.1,832.3 949.4,892.3 953.7,893.3 958.0,887.1 962.3,888.0 967.3,890.7 972.3,887.1 977.3,890.2 981.6,893.3 985.9,890.2 990.2,895.9 994.5,894.5 998.8,891.7 1003.1,895.8 1007.3,891.0 1011.6,894.9 1015.9,892.3 1020.2,890.2 1024.5,894.8 1028.7,890.3 1033.0,894.5 1037.3,892.3 1041.6,890.4 1045.9,895.4 1050.2,891.1 1054.5,896.2 1058.8,894.5 1063.6,892.2 1068.4,897.3 1073.2,892.7 1078.0,895.2 1082.4,895.8 1086.8,889.2 1091.1,892.0 1095.5,887.7 1100.5,885.7 1105.5,890.8 1110.5,888.9 1114.9,887.3 1119.3,892.5 1123.7,888.6 1128.1,891.4 1132.3,894.1 1136.4,890.3 1140.6,895.4 1144.8,891.7 1148.9,897.0 1153.1,895.2 1157.3,892.7 1161.5,896.4 1165.7,891.9 1169.8,895.8 1174.0,890.9 1178.2,892.7 1182.4,895.5 1186.5,891.7 1190.7,897.1 1194.9,893.1 1199.0,898.1 1203.2,896.5 1207.4,893.8 1211.5,898.4 1215.7,893.7 1219.9,897.9 1224.0,893.2 1228.2,895.2 1232.4,897.9 1236.6,894.3 1240.8,899.3 1244.9,895.3 1249.1,900.5 1253.3,899.0 1257.5,896.7 1261.6,901.5 1265.8,896.5 1270.0,901.2 1274.1,896.7 1278.3,899.0 1282.5,901.4 1286.6,897.2 1290.8,901.8 1295.0,897.4 1299.1,902.5 1303.3,900.2 1307.5,898.5 1311.7,903.0 1315.8,899.2 1320.0,903.9 1324.2,900.3 1328.4,902.7 1332.9,905.1 1337.5,900.6 1342.0,905.1 1346.6,900.5 1351.1,905.2 1355.7,900.3 1360.2,904.7 1364.8,900.6 1369.3,905.2 1373.9,900.4 1378.4,902.7 1382.6,905.3 1386.8,901.1 1391.0,906.4 1395.1,902.1 1399.3,907.0 1403.5,905.2 1407.8,903.3 1412.1,907.7 1416.4,903.6 1420.8,908.2 1425.1,903.7 1429.4,908.2 1433.7,904.0 1438.0,906.5" fill="none" stroke="#ff0000" stroke-width="3.3" stroke-linejoin="round"/>
<polyline points="199.0,910.0 300.0,909.5 320.0,800.0 340.0,721.5 344.3,688.6 360.1,650.0 368.6,630.1 377.2,625.8 380.1,618.7 385.8,618.7 388.6,610.1 394.4,650.0 397.9,654.3 401.5,662.9 407.2,662.9 411.5,678.6 415.8,670.0 420.1,684.3 423.0,674.3 426.5,695.7 430.0,712.9 434.3,704.3 438.6,711.6 442.9,723.6 447.2,719.3 451.5,727.8 455.8,732.2 460.1,723.6 463.3,719.2 466.5,719.3 470.8,732.2 474.0,735.4 477.2,734.3 481.5,749.3 485.8,770.8 490.1,826.5 494.4,829.9 498.7,837.3 503.0,846.0 507.3,850.1 511.5,854.5 515.8,863.0 520.1,858.7 524.4,859.9 528.7,856.6 531.9,861.0 535.1,869.4 539.4,873.2 543.7,870.8 548.0,874.8 553.4,872.4 558.7,865.1 563.0,875.8 568.4,875.9 573.7,880.1 579.1,878.0 584.5,871.6 588.7,880.1 593.0,876.7 597.3,880.4 601.6,874.6 605.9,875.8 610.2,880.1 614.5,881.8 618.8,876.6 623.0,880.5 627.3,878.0 631.6,877.7 635.9,884.4 640.2,884.4 643.3,886.0 647.0,879.7 650.8,877.6 656.7,876.0 660.0,878.9 663.4,877.6 666.7,874.2 670.0,875.1 675.0,876.8 678.4,870.9 681.7,874.2 685.0,872.6 690.0,868.4 693.4,859.3 697.5,857.6 701.7,860.1 705.9,847.6 709.2,855.9 713.4,848.4 716.7,835.9 721.7,828.4 725.5,828.2 729.2,823.4 732.6,836.7 736.4,779.2 740.1,886.8 744.2,888.2 748.4,894.3 752.6,896.1 756.8,893.5 761.8,890.4 766.8,891.8 770.1,895.5 773.4,895.1 776.8,891.8 780.1,892.6 783.5,896.8 786.8,896.4 790.1,891.8 793.5,890.3 796.8,893.5 801.8,893.6 806.8,889.3 810.1,895.1 814.3,888.5 820.2,891.0 823.5,889.2 826.8,891.8 831.8,887.6 835.9,889.0 840.0,885.9 844.3,883.7 848.6,888.0 852.9,883.5 857.2,888.2 861.5,885.9 865.8,883.3 870.1,887.3 874.3,882.3 878.6,886.6 882.9,883.7 887.7,881.1 892.5,885.3 897.4,880.5 902.2,882.7 906.5,885.6 910.8,882.1 915.1,887.5 919.4,885.9 924.4,883.1 929.4,886.7 934.4,883.7 939.4,883.8 944.4,890.4 949.4,890.2 954.2,888.3 959.0,893.5 963.9,889.3 968.7,892.3 973.0,894.0 977.3,889.1 981.6,893.3 985.9,888.3 990.2,890.2 995.2,891.7 1000.2,886.3 1005.2,888.0 1009.5,890.5 1013.8,885.8 1018.0,890.3 1022.3,886.0 1026.6,888.0 1031.9,892.5 1037.3,892.3 1041.6,890.8 1045.9,896.5 1050.2,892.5 1054.5,897.9 1058.8,896.6 1063.6,894.7 1068.4,899.5 1073.2,895.4 1078.0,897.7 1082.2,899.5 1086.3,894.8 1090.5,898.5 1094.7,894.0 1098.8,898.0 1103.0,895.2 1107.2,893.4 1111.4,897.8 1115.5,893.7 1119.7,898.5 1123.9,894.2 1128.1,896.5 1132.3,898.9 1136.4,894.6 1140.6,899.5 1144.8,894.9 1148.9,899.9 1153.1,897.7 1157.3,895.4 1161.5,899.5 1165.7,894.9 1169.8,899.3 1174.0,894.2 1178.2,896.5 1182.4,898.6 1186.5,894.4 1190.7,898.6 1194.9,894.4 1199.0,898.7 1203.2,896.5 1208.2,896.7 1213.2,903.6 1218.2,904.0 1222.7,902.0 1227.2,906.2 1231.7,901.8 1236.2,906.3 1240.7,904.0 1244.9,901.7 1249.1,906.7 1253.2,902.3 1257.4,907.1 1261.6,902.7 1265.8,905.2 1270.0,907.4 1274.1,903.2 1278.3,908.2 1282.5,903.6 1286.6,908.7 1290.8,906.5 1295.0,904.5 1299.2,909.1 1303.3,905.0 1307.5,909.6 1311.7,905.5 1315.9,907.7 1320.1,909.1 1324.2,904.4 1328.4,907.9 1332.6,903.1 1336.7,906.6 1340.9,904.0 1345.6,902.0 1350.3,906.1 1355.0,901.9 1359.7,906.2 1364.3,902.0 1369.0,906.4 1373.7,901.7 1378.4,904.0 1382.6,906.5 1386.8,902.7 1391.0,907.4 1395.1,903.5 1399.3,908.1 1403.5,906.5 1407.8,904.2 1412.1,909.3 1416.4,904.7 1420.8,909.3 1425.1,905.2 1429.4,909.5 1433.7,905.4 1438.0,907.7" fill="none" stroke="#ff0000" stroke-width="3.3" stroke-linejoin="round"/>
<polyline points="199.0,910.0 295.8,909.5 308.6,874.4 317.2,827.2 322.9,800.0 334.3,747.2 342.9,707.2 350.0,650.0 352.9,631.5 360.1,615.8 365.8,612.9 368.6,582.9 377.2,574.3 382.9,564.3 388.6,580.1 392.9,558.6 397.2,572.9 401.5,564.3 407.2,575.8 411.5,570.0 415.8,574.3 420.1,600.1 423.0,602.9 427.2,594.4 430.8,606.7 434.4,621.5 438.7,625.8 441.5,650.0 445.8,668.6 450.1,682.2 454.4,692.9 457.9,717.2 462.2,717.2 466.5,736.5 469.7,741.7 472.9,749.3 477.2,765.7 481.5,779.3 484.7,774.9 487.9,772.9 492.2,769.4 496.5,763.3 499.8,769.8 503.0,779.3 506.2,779.0 509.4,776.1 512.6,796.5 515.8,785.8 520.1,800.8 525.5,804.8 530.8,811.5 534.0,818.2 537.3,822.2 542.6,827.3 548.0,835.1 551.2,839.1 554.4,840.5 558.7,829.7 563.0,834.3 567.3,841.5 572.3,846.5 577.3,847.5 582.3,852.3 585.5,849.3 588.7,843.7 593.0,845.7 597.3,850.1 601.6,855.7 605.9,858.7 610.2,852.3 614.5,852.9 618.8,857.5 623.0,856.6 627.3,859.8 631.6,863.5 635.9,863.5 640.2,867.3 643.3,858.4 647.5,871.8 651.7,868.4 655.8,872.6 659.2,865.1 663.4,869.3 667.5,864.3 671.7,864.3 675.0,863.7 678.4,860.1 683.4,860.1 685.9,892.6 689.6,892.6 693.4,895.1 698.4,892.6 701.7,897.6 705.9,898.2 710.1,896.0 713.4,895.9 716.7,898.5 720.6,898.2 724.5,893.9 728.4,893.5 733.4,897.6 738.4,900.3 743.4,900.1 748.4,897.1 753.4,896.8 758.4,899.3 763.4,897.5 768.4,900.1 772.6,899.0 776.8,895.1 780.1,896.8 783.5,901.0 786.8,899.7 790.1,896.0 794.3,892.8 798.5,892.6 802.6,894.8 806.8,894.3 810.1,901.0 813.5,894.3 818.5,894.7 823.5,897.6 827.6,899.1 831.8,896.2 835.9,899.0 840.0,897.6 844.3,896.3 848.6,899.3 852.9,896.8 857.2,899.8 861.5,897.3 865.8,898.7 870.1,900.3 874.4,897.9 878.7,900.8 883.0,898.2 887.2,901.3 891.5,898.6 895.8,901.6 900.1,899.2 904.4,901.9 908.7,900.9 913.0,899.5 917.3,902.3 921.6,899.7 925.9,902.4 930.2,899.5 934.4,902.3 938.7,899.6 943.0,902.2 947.3,899.7 951.6,900.9 955.9,902.4 960.2,900.0 964.5,902.9 968.8,900.4 973.0,903.4 977.3,900.7 981.6,903.6 985.9,901.3 990.2,904.0 994.5,903.0 998.8,901.6 1003.1,904.5 1007.3,901.7 1011.6,904.4 1015.9,901.7 1020.2,904.2 1024.5,901.6 1028.7,904.3 1033.0,901.7 1037.3,903.0 1041.8,904.6 1046.3,902.2 1050.9,905.1 1055.4,902.6 1059.9,905.5 1064.4,903.1 1069.0,906.0 1073.5,903.7 1078.0,905.2 1082.2,906.8 1086.3,904.8 1090.5,907.8 1094.7,905.6 1098.8,908.7 1103.0,907.7 1107.2,906.3 1111.4,909.1 1115.5,906.2 1119.7,908.9 1123.9,906.5 1128.1,907.7 1132.7,909.2 1137.2,906.8 1141.8,909.8 1146.3,907.2 1150.9,910.1 1155.4,907.6 1160.0,910.5 1164.5,908.1 1169.1,910.5 1173.6,908.5 1178.2,910.2 1438.0,910.2" fill="none" stroke="#0000ff" stroke-width="3.3" stroke-linejoin="round"/>
<polyline points="199.0,910.5 295.8,910.0 307.2,877.3 311.5,795.8 315.8,795.8 318.6,832.9 322.9,832.9 327.2,824.4 331.5,800.0 337.2,770.0 345.8,721.5 350.0,680.0 354.3,684.3 358.6,650.0 365.8,588.6 372.9,582.9 377.2,650.0 377.5,700.0 379.7,828.7 383.9,871.6 388.2,888.7 391.9,890.1 395.7,894.1 399.4,896.0 403.2,895.2 407.5,888.7 410.7,891.9 415.0,887.5 419.3,885.5 423.6,891.9 426.8,886.6 430.6,890.2 434.3,890.9 437.6,890.7 440.8,893.0 446.1,894.9 451.5,894.1 454.7,895.3 457.9,899.4 462.2,901.2 466.5,900.5 469.7,899.1 472.9,900.5 477.2,901.2 481.5,897.9 485.8,898.4 490.1,901.3 494.4,901.6 498.7,901.8 503.0,904.8 506.2,903.4 509.4,899.4 514.8,899.1 520.1,901.6 524.4,902.3 528.7,900.5 533.0,899.6 537.3,902.5 541.6,901.6 545.9,899.9 550.1,902.3 554.4,900.5 558.7,900.7 563.0,903.7 567.3,904.9 571.6,902.0 575.9,904.5 580.2,901.7 584.5,902.7 588.8,904.2 593.1,901.7 597.3,904.7 601.6,902.2 605.9,903.7 610.2,905.4 614.5,903.3 618.7,906.3 623.0,904.2 627.3,905.9 631.3,906.7 635.3,903.4 639.3,905.6 643.3,903.5 648.3,906.8 652.5,905.3 656.6,908.0 660.8,905.5 665.0,906.8 670.0,907.3 675.0,905.1 680.0,904.7 685.0,908.1 690.0,907.6 694.2,906.6 698.4,909.7 702.5,907.5 706.7,909.3 711.5,910.5 716.2,908.2 721.0,910.5 725.8,908.5 730.6,910.5 735.3,908.8 740.1,910.1 1438.0,910.1" fill="none" stroke="#0000ff" stroke-width="3.3" stroke-linejoin="round"/>
</g>
<path d="M1015.99 72.88 L1029.41 72.88 L1022.09 82.64 L1025.75 82.64 L1028.19 83.86 L1029.41 85.08 L1030.63 88.74 L1030.63 91.18 L1029.41 94.84 L1026.97 97.28 L1023.31 98.50 L1019.65 98.50 L1015.99 97.28 L1014.77 96.06 L1013.55 93.62 M1040.39 72.88 L1053.81 72.88 L1046.49 82.64 L1050.15 82.64 L1052.59 83.86 L1053.81 85.08 L1055.03 88.74 L1055.03 91.18 L1053.81 94.84 L1051.37 97.28 L1047.71 98.50 L1044.05 98.50 L1040.39 97.28 L1039.17 96.06 L1037.95 93.62 M1066.01 77.76 L1068.45 76.54 L1072.11 72.88 L1072.11 98.50 M1094.07 72.88 L1090.41 74.10 L1087.97 77.76 L1086.75 83.86 L1086.75 87.52 L1087.97 93.62 L1090.41 97.28 L1094.07 98.50 L1096.51 98.50 L1100.17 97.28 L1102.61 93.62 L1103.83 87.52 L1103.83 83.86 L1102.61 77.76 L1100.17 74.10 L1096.51 72.88 L1094.07 72.88 M1117.25 72.88 L1113.59 74.10 L1112.37 76.54 L1112.37 78.98 L1113.59 81.42 L1116.03 82.64 L1120.91 83.86 L1124.57 85.08 L1127.01 87.52 L1128.23 89.96 L1128.23 93.62 L1127.01 96.06 L1125.79 97.28 L1122.13 98.50 L1117.25 98.50 L1113.59 97.28 L1112.37 96.06 L1111.15 93.62 L1111.15 89.96 L1112.37 87.52 L1114.81 85.08 L1118.47 83.86 L1123.35 82.64 L1125.79 81.42 L1127.01 78.98 L1127.01 76.54 L1125.79 74.10 L1122.13 72.88 L1117.25 72.88 M1155.90 87.52 L1177.86 87.52 M1206.85 81.42 L1206.85 98.50 M1206.85 86.30 L1210.51 82.64 L1212.95 81.42 L1216.61 81.42 L1219.05 82.64 L1220.27 86.30 L1220.27 98.50 M1234.91 81.42 L1232.47 82.64 L1230.03 85.08 L1228.81 88.74 L1228.81 91.18 L1230.03 94.84 L1232.47 97.28 L1234.91 98.50 L1238.57 98.50 L1241.01 97.28 L1243.45 94.84 L1244.67 91.18 L1244.67 88.74 L1243.45 85.08 L1241.01 82.64 L1238.57 81.42 L1234.91 81.42 M1272.73 72.88 L1272.73 98.50 M1272.73 72.88 L1283.71 72.88 L1287.37 74.10 L1288.59 75.32 L1289.81 77.76 L1289.81 80.20 L1288.59 82.64 L1287.37 83.86 L1283.71 85.08 L1272.73 85.08 M1281.27 85.08 L1289.81 98.50 M1298.35 72.88 L1298.35 98.50 M1298.35 72.88 L1308.11 98.50 M1317.87 72.88 L1308.11 98.50 M1317.87 72.88 L1317.87 98.50 M1327.63 72.88 L1327.63 98.50 M1327.63 72.88 L1338.61 72.88 L1342.27 74.10 L1343.49 75.32 L1344.71 77.76 L1344.71 81.42 L1343.49 83.86 L1342.27 85.08 L1338.61 86.30 L1327.63 86.30 M1365.45 85.08 L1364.23 82.64 L1360.57 81.42 L1356.91 81.42 L1353.25 82.64 L1352.03 85.08 L1353.25 87.52 L1355.69 88.74 L1361.79 89.96 L1364.23 91.18 L1365.45 93.62 L1365.45 94.84 L1364.23 97.28 L1360.57 98.50 L1356.91 98.50 L1353.25 97.28 L1352.03 94.84" stroke="#000" stroke-width="2.5" fill="none" stroke-linecap="butt" stroke-linejoin="miter" stroke-miterlimit="3"/>
<path d="M1015.99 123.88 L1029.41 123.88 L1022.09 133.64 L1025.75 133.64 L1028.19 134.86 L1029.41 136.08 L1030.63 139.74 L1030.63 142.18 L1029.41 145.84 L1026.97 148.28 L1023.31 149.50 L1019.65 149.50 L1015.99 148.28 L1014.77 147.06 L1013.55 144.62 M1040.39 123.88 L1053.81 123.88 L1046.49 133.64 L1050.15 133.64 L1052.59 134.86 L1053.81 136.08 L1055.03 139.74 L1055.03 142.18 L1053.81 145.84 L1051.37 148.28 L1047.71 149.50 L1044.05 149.50 L1040.39 148.28 L1039.17 147.06 L1037.95 144.62 M1066.01 128.76 L1068.45 127.54 L1072.11 123.88 L1072.11 149.50 M1094.07 123.88 L1090.41 125.10 L1087.97 128.76 L1086.75 134.86 L1086.75 138.52 L1087.97 144.62 L1090.41 148.28 L1094.07 149.50 L1096.51 149.50 L1100.17 148.28 L1102.61 144.62 L1103.83 138.52 L1103.83 134.86 L1102.61 128.76 L1100.17 125.10 L1096.51 123.88 L1094.07 123.88 M1127.01 132.42 L1125.79 136.08 L1123.35 138.52 L1119.69 139.74 L1118.47 139.74 L1114.81 138.52 L1112.37 136.08 L1111.15 132.42 L1111.15 131.20 L1112.37 127.54 L1114.81 125.10 L1118.47 123.88 L1119.69 123.88 L1123.35 125.10 L1125.79 127.54 L1127.01 132.42 L1127.01 138.52 L1125.79 144.62 L1123.35 148.28 L1119.69 149.50 L1117.25 149.50 L1113.59 148.28 L1112.37 145.84 M1155.90 138.52 L1177.86 138.52 M1213.81 123.88 L1204.05 149.50 M1213.81 123.88 L1223.57 149.50 M1204.05 149.50 L1223.57 149.50 M1241.87 123.88 L1232.11 158.04 M1235.77 132.42 L1232.11 133.64 L1229.67 136.08 L1228.45 139.74 L1228.45 143.40 L1229.67 145.84 L1232.11 148.28 L1235.77 149.50 L1238.21 149.50 L1241.87 148.28 L1244.31 145.84 L1245.53 142.18 L1245.53 138.52 L1244.31 136.08 L1241.87 133.64 L1238.21 132.42 L1235.77 132.42 M1254.07 134.86 L1276.03 134.86 M1254.07 142.18 L1276.03 142.18 M1291.89 123.88 L1288.23 125.10 L1285.79 128.76 L1284.57 134.86 L1284.57 138.52 L1285.79 144.62 L1288.23 148.28 L1291.89 149.50 L1294.33 149.50 L1297.99 148.28 L1300.43 144.62 L1301.65 138.52 L1301.65 134.86 L1300.43 128.76 L1297.99 125.10 L1294.33 123.88 L1291.89 123.88 M1312.63 123.88 L1310.19 125.10 L1308.97 127.54 L1308.97 129.98 L1310.19 132.42 L1312.63 133.64 L1315.07 133.64 L1317.51 132.42 L1318.73 129.98 L1318.73 127.54 L1317.51 125.10 L1315.07 123.88 L1312.63 123.88" stroke="#ff7f00" stroke-width="2.5" fill="none" stroke-linecap="butt" stroke-linejoin="miter" stroke-miterlimit="3"/>
<path d="M1015.99 173.88 L1029.41 173.88 L1022.09 183.64 L1025.75 183.64 L1028.19 184.86 L1029.41 186.08 L1030.63 189.74 L1030.63 192.18 L1029.41 195.84 L1026.97 198.28 L1023.31 199.50 L1019.65 199.50 L1015.99 198.28 L1014.77 197.06 L1013.55 194.62 M1040.39 173.88 L1053.81 173.88 L1046.49 183.64 L1050.15 183.64 L1052.59 184.86 L1053.81 186.08 L1055.03 189.74 L1055.03 192.18 L1053.81 195.84 L1051.37 198.28 L1047.71 199.50 L1044.05 199.50 L1040.39 198.28 L1039.17 197.06 L1037.95 194.62 M1066.01 178.76 L1068.45 177.54 L1072.11 173.88 L1072.11 199.50 M1090.41 178.76 L1092.85 177.54 L1096.51 173.88 L1096.51 199.50 M1118.47 173.88 L1114.81 175.10 L1112.37 178.76 L1111.15 184.86 L1111.15 188.52 L1112.37 194.62 L1114.81 198.28 L1118.47 199.50 L1120.91 199.50 L1124.57 198.28 L1127.01 194.62 L1128.23 188.52 L1128.23 184.86 L1127.01 178.76 L1124.57 175.10 L1120.91 173.88 L1118.47 173.88 M1155.90 188.52 L1177.86 188.52 M1213.81 173.88 L1204.05 199.50 M1213.81 173.88 L1223.57 199.50 M1204.05 199.50 L1223.57 199.50 M1241.87 173.88 L1232.11 208.04 M1235.77 182.42 L1232.11 183.64 L1229.67 186.08 L1228.45 189.74 L1228.45 193.40 L1229.67 195.84 L1232.11 198.28 L1235.77 199.50 L1238.21 199.50 L1241.87 198.28 L1244.31 195.84 L1245.53 192.18 L1245.53 188.52 L1244.31 186.08 L1241.87 183.64 L1238.21 182.42 L1235.77 182.42 M1254.07 184.86 L1276.03 184.86 M1254.07 192.18 L1276.03 192.18 M1285.79 179.98 L1285.79 178.76 L1287.01 176.32 L1288.23 175.10 L1290.67 173.88 L1295.55 173.88 L1297.99 175.10 L1299.21 176.32 L1300.43 178.76 L1300.43 181.20 L1299.21 183.64 L1296.77 187.30 L1284.57 199.50 L1301.65 199.50 M1326.05 173.88 L1313.85 199.50 M1308.97 173.88 L1326.05 173.88 M1340.69 173.88 L1337.03 175.10 L1334.59 178.76 L1333.37 184.86 L1333.37 188.52 L1334.59 194.62 L1337.03 198.28 L1340.69 199.50 L1343.13 199.50 L1346.79 198.28 L1349.23 194.62 L1350.45 188.52 L1350.45 184.86 L1349.23 178.76 L1346.79 175.10 L1343.13 173.88 L1340.69 173.88 M1361.43 173.88 L1358.99 175.10 L1357.77 177.54 L1357.77 179.98 L1358.99 182.42 L1361.43 183.64 L1363.87 183.64 L1366.31 182.42 L1367.53 179.98 L1367.53 177.54 L1366.31 175.10 L1363.87 173.88 L1361.43 173.88" stroke="#00ffff" stroke-width="2.5" fill="none" stroke-linecap="butt" stroke-linejoin="miter" stroke-miterlimit="3"/>
<path d="M1015.79 225.68 L1029.21 225.68 L1021.89 235.44 L1025.55 235.44 L1027.99 236.66 L1029.21 237.88 L1030.43 241.54 L1030.43 243.98 L1029.21 247.64 L1026.77 250.08 L1023.11 251.30 L1019.45 251.30 L1015.79 250.08 L1014.57 248.86 L1013.35 246.42 M1040.19 225.68 L1053.61 225.68 L1046.29 235.44 L1049.95 235.44 L1052.39 236.66 L1053.61 237.88 L1054.83 241.54 L1054.83 243.98 L1053.61 247.64 L1051.17 250.08 L1047.51 251.30 L1043.85 251.30 L1040.19 250.08 L1038.97 248.86 L1037.75 246.42 M1065.81 230.56 L1068.25 229.34 L1071.91 225.68 L1071.91 251.30 M1090.21 230.56 L1092.65 229.34 L1096.31 225.68 L1096.31 251.30 M1114.61 230.56 L1117.05 229.34 L1120.71 225.68 L1120.71 251.30 M1156.40 240.32 L1178.36 240.32 M1212.41 225.68 L1202.65 251.30 M1212.41 225.68 L1222.17 251.30 M1202.65 251.30 L1222.17 251.30 M1240.47 225.68 L1230.71 259.84 M1234.37 234.22 L1230.71 235.44 L1228.27 237.88 L1227.05 241.54 L1227.05 245.20 L1228.27 247.64 L1230.71 250.08 L1234.37 251.30 L1236.81 251.30 L1240.47 250.08 L1242.91 247.64 L1244.13 243.98 L1244.13 240.32 L1242.91 237.88 L1240.47 235.44 L1236.81 234.22 L1234.37 234.22 M1252.67 236.66 L1274.63 236.66 M1252.67 243.98 L1274.63 243.98 M1286.83 230.56 L1289.27 229.34 L1292.93 225.68 L1292.93 251.30 M1313.67 225.68 L1310.01 226.90 L1308.79 229.34 L1308.79 231.78 L1310.01 234.22 L1312.45 235.44 L1317.33 236.66 L1320.99 237.88 L1323.43 240.32 L1324.65 242.76 L1324.65 246.42 L1323.43 248.86 L1322.21 250.08 L1318.55 251.30 L1313.67 251.30 L1310.01 250.08 L1308.79 248.86 L1307.57 246.42 L1307.57 242.76 L1308.79 240.32 L1311.23 237.88 L1314.89 236.66 L1319.77 235.44 L1322.21 234.22 L1323.43 231.78 L1323.43 229.34 L1322.21 226.90 L1318.55 225.68 L1313.67 225.68 M1339.29 225.68 L1335.63 226.90 L1333.19 230.56 L1331.97 236.66 L1331.97 240.32 L1333.19 246.42 L1335.63 250.08 L1339.29 251.30 L1341.73 251.30 L1345.39 250.08 L1347.83 246.42 L1349.05 240.32 L1349.05 236.66 L1347.83 230.56 L1345.39 226.90 L1341.73 225.68 L1339.29 225.68 M1360.03 225.68 L1357.59 226.90 L1356.37 229.34 L1356.37 231.78 L1357.59 234.22 L1360.03 235.44 L1362.47 235.44 L1364.91 234.22 L1366.13 231.78 L1366.13 229.34 L1364.91 226.90 L1362.47 225.68 L1360.03 225.68" stroke="#4b0082" stroke-width="2.5" fill="none" stroke-linecap="butt" stroke-linejoin="miter" stroke-miterlimit="3"/>
<path d="M860.89 276.38 L874.31 276.38 L866.99 286.14 L870.65 286.14 L873.09 287.36 L874.31 288.58 L875.53 292.24 L875.53 294.68 L874.31 298.34 L871.87 300.78 L868.21 302.00 L864.55 302.00 L860.89 300.78 L859.67 299.56 L858.45 297.12 M885.29 276.38 L898.71 276.38 L891.39 286.14 L895.05 286.14 L897.49 287.36 L898.71 288.58 L899.93 292.24 L899.93 294.68 L898.71 298.34 L896.27 300.78 L892.61 302.00 L888.95 302.00 L885.29 300.78 L884.07 299.56 L882.85 297.12 M910.91 281.26 L913.35 280.04 L917.01 276.38 L917.01 302.00 M935.31 281.26 L937.75 280.04 L941.41 276.38 L941.41 302.00 M957.27 282.48 L957.27 281.26 L958.49 278.82 L959.71 277.60 L962.15 276.38 L967.03 276.38 L969.47 277.60 L970.69 278.82 L971.91 281.26 L971.91 283.70 L970.69 286.14 L968.25 289.80 L956.05 302.00 L973.13 302.00 M1001.19 271.50 L979.23 310.54 M1009.73 276.38 L1023.15 276.38 L1015.83 286.14 L1019.49 286.14 L1021.93 287.36 L1023.15 288.58 L1024.37 292.24 L1024.37 294.68 L1023.15 298.34 L1020.71 300.78 L1017.05 302.00 L1013.39 302.00 L1009.73 300.78 L1008.51 299.56 L1007.29 297.12 M1034.13 276.38 L1047.55 276.38 L1040.23 286.14 L1043.89 286.14 L1046.33 287.36 L1047.55 288.58 L1048.77 292.24 L1048.77 294.68 L1047.55 298.34 L1045.11 300.78 L1041.45 302.00 L1037.79 302.00 L1034.13 300.78 L1032.91 299.56 L1031.69 297.12 M1059.75 281.26 L1062.19 280.04 L1065.85 276.38 L1065.85 302.00 M1084.15 281.26 L1086.59 280.04 L1090.25 276.38 L1090.25 302.00 M1107.33 276.38 L1120.75 276.38 L1113.43 286.14 L1117.09 286.14 L1119.53 287.36 L1120.75 288.58 L1121.97 292.24 L1121.97 294.68 L1120.75 298.34 L1118.31 300.78 L1114.65 302.00 L1110.99 302.00 L1107.33 300.78 L1106.11 299.56 L1104.89 297.12 M1149.50 291.02 L1171.46 291.02 M1206.61 276.38 L1196.85 302.00 M1206.61 276.38 L1216.37 302.00 M1196.85 302.00 L1216.37 302.00 M1234.67 276.38 L1224.91 310.54 M1228.57 284.92 L1224.91 286.14 L1222.47 288.58 L1221.25 292.24 L1221.25 295.90 L1222.47 298.34 L1224.91 300.78 L1228.57 302.00 L1231.01 302.00 L1234.67 300.78 L1237.11 298.34 L1238.33 294.68 L1238.33 291.02 L1237.11 288.58 L1234.67 286.14 L1231.01 284.92 L1228.57 284.92 M1246.87 287.36 L1268.83 287.36 M1246.87 294.68 L1268.83 294.68 M1293.23 284.92 L1292.01 288.58 L1289.57 291.02 L1285.91 292.24 L1284.69 292.24 L1281.03 291.02 L1278.59 288.58 L1277.37 284.92 L1277.37 283.70 L1278.59 280.04 L1281.03 277.60 L1284.69 276.38 L1285.91 276.38 L1289.57 277.60 L1292.01 280.04 L1293.23 284.92 L1293.23 291.02 L1292.01 297.12 L1289.57 300.78 L1285.91 302.00 L1283.47 302.00 L1279.81 300.78 L1278.59 298.34 M1309.09 276.38 L1305.43 277.60 L1302.99 281.26 L1301.77 287.36 L1301.77 291.02 L1302.99 297.12 L1305.43 300.78 L1309.09 302.00 L1311.53 302.00 L1315.19 300.78 L1317.63 297.12 L1318.85 291.02 L1318.85 287.36 L1317.63 281.26 L1315.19 277.60 L1311.53 276.38 L1309.09 276.38 M1329.83 276.38 L1327.39 277.60 L1326.17 280.04 L1326.17 282.48 L1327.39 284.92 L1329.83 286.14 L1332.27 286.14 L1334.71 284.92 L1335.93 282.48 L1335.93 280.04 L1334.71 277.60 L1332.27 276.38 L1329.83 276.38" stroke="#ff0000" stroke-width="2.5" fill="none" stroke-linecap="butt" stroke-linejoin="miter" stroke-miterlimit="3"/>
<path d="M860.89 326.88 L874.31 326.88 L866.99 336.64 L870.65 336.64 L873.09 337.86 L874.31 339.08 L875.53 342.74 L875.53 345.18 L874.31 348.84 L871.87 351.28 L868.21 352.50 L864.55 352.50 L860.89 351.28 L859.67 350.06 L858.45 347.62 M885.29 326.88 L898.71 326.88 L891.39 336.64 L895.05 336.64 L897.49 337.86 L898.71 339.08 L899.93 342.74 L899.93 345.18 L898.71 348.84 L896.27 351.28 L892.61 352.50 L888.95 352.50 L885.29 351.28 L884.07 350.06 L882.85 347.62 M921.89 326.88 L909.69 326.88 L908.47 337.86 L909.69 336.64 L913.35 335.42 L917.01 335.42 L920.67 336.64 L923.11 339.08 L924.33 342.74 L924.33 345.18 L923.11 348.84 L920.67 351.28 L917.01 352.50 L913.35 352.50 L909.69 351.28 L908.47 350.06 L907.25 347.62 M938.97 326.88 L935.31 328.10 L932.87 331.76 L931.65 337.86 L931.65 341.52 L932.87 347.62 L935.31 351.28 L938.97 352.50 L941.41 352.50 L945.07 351.28 L947.51 347.62 L948.73 341.52 L948.73 337.86 L947.51 331.76 L945.07 328.10 L941.41 326.88 L938.97 326.88 M971.91 330.54 L970.69 328.10 L967.03 326.88 L964.59 326.88 L960.93 328.10 L958.49 331.76 L957.27 337.86 L957.27 343.96 L958.49 348.84 L960.93 351.28 L964.59 352.50 L965.81 352.50 L969.47 351.28 L971.91 348.84 L973.13 345.18 L973.13 343.96 L971.91 340.30 L969.47 337.86 L965.81 336.64 L964.59 336.64 L960.93 337.86 L958.49 340.30 L957.27 343.96 M1001.19 322.00 L979.23 361.04 M1009.73 326.88 L1023.15 326.88 L1015.83 336.64 L1019.49 336.64 L1021.93 337.86 L1023.15 339.08 L1024.37 342.74 L1024.37 345.18 L1023.15 348.84 L1020.71 351.28 L1017.05 352.50 L1013.39 352.50 L1009.73 351.28 L1008.51 350.06 L1007.29 347.62 M1034.13 326.88 L1047.55 326.88 L1040.23 336.64 L1043.89 336.64 L1046.33 337.86 L1047.55 339.08 L1048.77 342.74 L1048.77 345.18 L1047.55 348.84 L1045.11 351.28 L1041.45 352.50 L1037.79 352.50 L1034.13 351.28 L1032.91 350.06 L1031.69 347.62 M1073.17 326.88 L1060.97 352.50 M1056.09 326.88 L1073.17 326.88 M1087.81 326.88 L1084.15 328.10 L1081.71 331.76 L1080.49 337.86 L1080.49 341.52 L1081.71 347.62 L1084.15 351.28 L1087.81 352.50 L1090.25 352.50 L1093.91 351.28 L1096.35 347.62 L1097.57 341.52 L1097.57 337.86 L1096.35 331.76 L1093.91 328.10 L1090.25 326.88 L1087.81 326.88 M1120.75 330.54 L1119.53 328.10 L1115.87 326.88 L1113.43 326.88 L1109.77 328.10 L1107.33 331.76 L1106.11 337.86 L1106.11 343.96 L1107.33 348.84 L1109.77 351.28 L1113.43 352.50 L1114.65 352.50 L1118.31 351.28 L1120.75 348.84 L1121.97 345.18 L1121.97 343.96 L1120.75 340.30 L1118.31 337.86 L1114.65 336.64 L1113.43 336.64 L1109.77 337.86 L1107.33 340.30 L1106.11 343.96 M1149.50 341.52 L1171.46 341.52 M1206.61 326.88 L1196.85 352.50 M1206.61 326.88 L1216.37 352.50 M1196.85 352.50 L1216.37 352.50 M1234.67 326.88 L1224.91 361.04 M1228.57 335.42 L1224.91 336.64 L1222.47 339.08 L1221.25 342.74 L1221.25 346.40 L1222.47 348.84 L1224.91 351.28 L1228.57 352.50 L1231.01 352.50 L1234.67 351.28 L1237.11 348.84 L1238.33 345.18 L1238.33 341.52 L1237.11 339.08 L1234.67 336.64 L1231.01 335.42 L1228.57 335.42 M1246.87 337.86 L1268.83 337.86 M1246.87 345.18 L1268.83 345.18 M1289.57 326.88 L1277.37 343.96 L1295.67 343.96 M1289.57 326.88 L1289.57 352.50 M1316.41 326.88 L1304.21 326.88 L1302.99 337.86 L1304.21 336.64 L1307.87 335.42 L1311.53 335.42 L1315.19 336.64 L1317.63 339.08 L1318.85 342.74 L1318.85 345.18 L1317.63 348.84 L1315.19 351.28 L1311.53 352.50 L1307.87 352.50 L1304.21 351.28 L1302.99 350.06 L1301.77 347.62 M1329.83 326.88 L1327.39 328.10 L1326.17 330.54 L1326.17 332.98 L1327.39 335.42 L1329.83 336.64 L1332.27 336.64 L1334.71 335.42 L1335.93 332.98 L1335.93 330.54 L1334.71 328.10 L1332.27 326.88 L1329.83 326.88" stroke="#0000ff" stroke-width="2.5" fill="none" stroke-linecap="butt" stroke-linejoin="miter" stroke-miterlimit="3"/>
<text x="0" y="41.5" font-family="Liberation Sans" font-weight="bold" font-size="45px" fill="#000">A</text>
<text x="-0.4" y="529.3" font-family="Liberation Sans" font-weight="bold" font-size="45px" fill="#000">B</text>
</svg></body></html>
